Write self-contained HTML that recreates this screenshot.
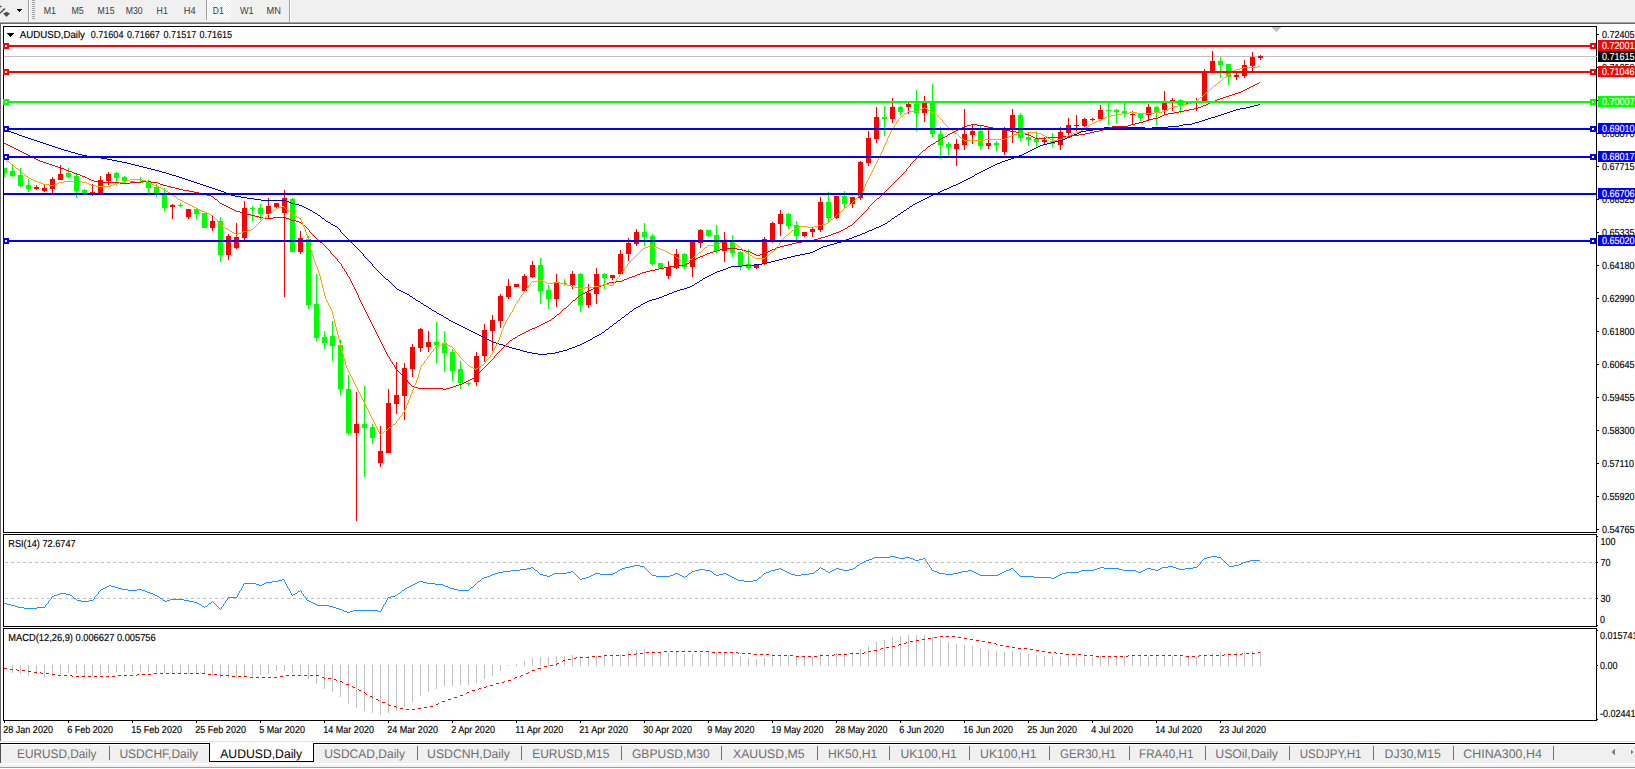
<!DOCTYPE html>
<html><head><meta charset="utf-8"><title>AUDUSD,Daily</title>
<style>
html,body{margin:0;padding:0;background:#fff;overflow:hidden}
svg{display:block}
svg text{font-family:"Liberation Sans",sans-serif;text-rendering:geometricPrecision}
rect,polyline,line,path{shape-rendering:crispEdges}
</style></head>
<body>
<svg width="1635" height="769" viewBox="0 0 1635 769">
<rect x="0" y="0" width="1635" height="769" fill="#ffffff"/>
<rect x="0" y="0" width="1635" height="22" fill="#f0f0f0"/>
<rect x="0" y="21" width="1635" height="1" fill="#f5f5f5"/>
<rect x="0" y="22" width="1635" height="1" fill="#a0a0a0"/>
<rect x="0" y="23" width="1635" height="1" fill="#696969"/>
<rect x="0" y="23" width="1" height="719" fill="#696969"/>
<g id="toolbar">
<path d="M0 5.2 L2.2 6.8 L0 7.4 Z" fill="#505050" style="shape-rendering:auto"/>
<path d="M5 8.6 L0 13.3" stroke="#505050" stroke-width="1.4" fill="none" style="shape-rendering:auto"/>
<path d="M6.6 11.7 L10 13.6 L6.4 17.1 L3.1 13.6 Z" fill="#505050" style="shape-rendering:auto"/>
<rect x="17" y="9" width="5" height="1" fill="#000"/>
<rect x="18" y="10" width="3" height="1" fill="#000"/>
<rect x="19" y="11" width="1" height="1" fill="#000"/>
<rect x="28" y="0" width="1" height="22" fill="#a0a0a0"/>
<rect x="29" y="0" width="1" height="22" fill="#ffffff"/>
<rect x="32" y="0" width="3" height="1" fill="#a0a0a0"/>
<rect x="32" y="2" width="3" height="1" fill="#a0a0a0"/>
<rect x="32" y="4" width="3" height="1" fill="#a0a0a0"/>
<rect x="32" y="6" width="3" height="1" fill="#a0a0a0"/>
<rect x="32" y="8" width="3" height="1" fill="#a0a0a0"/>
<rect x="32" y="10" width="3" height="1" fill="#a0a0a0"/>
<rect x="32" y="12" width="3" height="1" fill="#a0a0a0"/>
<rect x="32" y="14" width="3" height="1" fill="#a0a0a0"/>
<rect x="32" y="16" width="3" height="1" fill="#a0a0a0"/>
<rect x="32" y="18" width="3" height="1" fill="#a0a0a0"/>
<defs><pattern id="hatch" width="2" height="2" patternUnits="userSpaceOnUse"><rect width="2" height="2" fill="#f0f0f0"/><rect width="1" height="1" fill="#fff"/><rect x="1" y="1" width="1" height="1" fill="#fff"/></pattern></defs>
<rect x="207" y="0" width="24" height="20" fill="url(#hatch)"/>
<rect x="206" y="0" width="1" height="20" fill="#a0a0a0"/>
<rect x="289" y="0" width="1" height="22" fill="#a0a0a0"/>
<rect x="290" y="0" width="1" height="22" fill="#ffffff"/>
<text x="43.7" y="14" font-size="10.2" fill="#3c3c3c" textLength="12.2" lengthAdjust="spacingAndGlyphs">M1</text>
<text x="71.5" y="14" font-size="10.2" fill="#3c3c3c" textLength="12.3" lengthAdjust="spacingAndGlyphs">M5</text>
<text x="97.6" y="14" font-size="10.2" fill="#3c3c3c" textLength="16.9" lengthAdjust="spacingAndGlyphs">M15</text>
<text x="125.7" y="14" font-size="10.2" fill="#3c3c3c" textLength="16.9" lengthAdjust="spacingAndGlyphs">M30</text>
<text x="156.6" y="14" font-size="10.2" fill="#3c3c3c" textLength="11.2" lengthAdjust="spacingAndGlyphs">H1</text>
<text x="183.7" y="14" font-size="10.2" fill="#3c3c3c" textLength="11.9" lengthAdjust="spacingAndGlyphs">H4</text>
<text x="212.8" y="14" font-size="10.2" fill="#3c3c3c" textLength="10.9" lengthAdjust="spacingAndGlyphs">D1</text>
<text x="239.9" y="14" font-size="10.2" fill="#3c3c3c" textLength="13.7" lengthAdjust="spacingAndGlyphs">W1</text>
<text x="266.6" y="14" font-size="10.2" fill="#3c3c3c" textLength="14.4" lengthAdjust="spacingAndGlyphs">MN</text>
</g>
<rect x="3" y="26" width="1594" height="1" fill="#000000"/>
<rect x="3" y="26" width="1" height="695" fill="#000000"/>
<rect x="1596" y="26" width="1" height="695" fill="#000000"/>
<rect x="3" y="532" width="1594" height="1" fill="#000000"/>
<rect x="3" y="534" width="1594" height="1" fill="#000000"/>
<rect x="3" y="626" width="1594" height="1" fill="#000000"/>
<rect x="3" y="628" width="1594" height="1" fill="#000000"/>
<rect x="3" y="720" width="1594" height="1" fill="#000000"/>
<rect x="3" y="533" width="1594" height="1" fill="#fff"/>
<rect x="3" y="627" width="1594" height="1" fill="#fff"/>
<rect x="1272" y="27" width="9" height="1" fill="#c0c0c0"/>
<rect x="1273" y="28" width="7" height="1" fill="#c0c0c0"/>
<rect x="1274" y="29" width="5" height="1" fill="#c0c0c0"/>
<rect x="1275" y="30" width="3" height="1" fill="#c0c0c0"/>
<rect x="1276" y="31" width="1" height="1" fill="#c0c0c0"/>
<defs><clipPath id="cm"><rect x="4" y="27" width="1592" height="505"/></clipPath></defs>
<g clip-path="url(#cm)">
<rect x="4" y="56" width="1592" height="1" fill="#c0c0c0"/>
<rect x="4" y="168" width="1" height="9" fill="#00ff00"/>
<rect x="2" y="168" width="5" height="5" fill="#00ff00"/>
<rect x="12" y="165" width="1" height="12" fill="#00ff00"/>
<rect x="10" y="171" width="5" height="5" fill="#00ff00"/>
<rect x="20" y="168" width="1" height="19" fill="#00ff00"/>
<rect x="18" y="175" width="5" height="11" fill="#00ff00"/>
<rect x="28" y="179" width="1" height="13" fill="#00ff00"/>
<rect x="26" y="185" width="5" height="4" fill="#00ff00"/>
<rect x="36" y="185" width="1" height="5" fill="#ff0000"/>
<rect x="34" y="187" width="5" height="2" fill="#ff0000"/>
<rect x="44" y="184" width="1" height="8" fill="#ff0000"/>
<rect x="42" y="188" width="5" height="3" fill="#ff0000"/>
<rect x="52" y="177" width="1" height="16" fill="#ff0000"/>
<rect x="50" y="179" width="5" height="10" fill="#ff0000"/>
<rect x="60" y="165" width="1" height="15" fill="#ff0000"/>
<rect x="58" y="174" width="5" height="6" fill="#ff0000"/>
<rect x="68" y="168" width="1" height="10" fill="#00ff00"/>
<rect x="66" y="173" width="5" height="4" fill="#00ff00"/>
<rect x="76" y="174" width="1" height="24" fill="#00ff00"/>
<rect x="74" y="176" width="5" height="15" fill="#00ff00"/>
<rect x="84" y="189" width="1" height="5" fill="#00ff00"/>
<rect x="82" y="190" width="5" height="4" fill="#00ff00"/>
<rect x="92" y="184" width="1" height="12" fill="#ff0000"/>
<rect x="90" y="192" width="5" height="2" fill="#ff0000"/>
<rect x="100" y="176" width="1" height="18" fill="#ff0000"/>
<rect x="98" y="180" width="5" height="14" fill="#ff0000"/>
<rect x="108" y="172" width="1" height="13" fill="#ff0000"/>
<rect x="106" y="174" width="5" height="7" fill="#ff0000"/>
<rect x="116" y="172" width="1" height="13" fill="#00ff00"/>
<rect x="114" y="173" width="5" height="5" fill="#00ff00"/>
<rect x="124" y="176" width="1" height="7" fill="#00ff00"/>
<rect x="122" y="177" width="5" height="4" fill="#00ff00"/>
<rect x="132" y="181" width="1" height="2" fill="#00ff00"/>
<rect x="130" y="181" width="5" height="2" fill="#00ff00"/>
<rect x="140" y="177" width="1" height="6" fill="#00ff00"/>
<rect x="138" y="182" width="5" height="1" fill="#00ff00"/>
<rect x="148" y="180" width="1" height="13" fill="#00ff00"/>
<rect x="146" y="182" width="5" height="6" fill="#00ff00"/>
<rect x="156" y="184" width="1" height="13" fill="#00ff00"/>
<rect x="154" y="187" width="5" height="6" fill="#00ff00"/>
<rect x="164" y="188" width="1" height="23" fill="#00ff00"/>
<rect x="162" y="194" width="5" height="14" fill="#00ff00"/>
<rect x="172" y="204" width="1" height="15" fill="#ff0000"/>
<rect x="170" y="205" width="5" height="2" fill="#ff0000"/>
<rect x="180" y="203" width="1" height="4" fill="#00ff00"/>
<rect x="178" y="205" width="5" height="1" fill="#00ff00"/>
<rect x="188" y="209" width="1" height="10" fill="#ff0000"/>
<rect x="186" y="209" width="5" height="8" fill="#ff0000"/>
<rect x="196" y="208" width="1" height="11" fill="#00ff00"/>
<rect x="194" y="209" width="5" height="5" fill="#00ff00"/>
<rect x="204" y="213" width="1" height="15" fill="#00ff00"/>
<rect x="202" y="213" width="5" height="15" fill="#00ff00"/>
<rect x="212" y="216" width="1" height="15" fill="#ff0000"/>
<rect x="210" y="221" width="5" height="7" fill="#ff0000"/>
<rect x="220" y="217" width="1" height="45" fill="#00ff00"/>
<rect x="218" y="221" width="5" height="34" fill="#00ff00"/>
<rect x="228" y="234" width="1" height="26" fill="#ff0000"/>
<rect x="226" y="236" width="5" height="19" fill="#ff0000"/>
<rect x="236" y="223" width="1" height="26" fill="#ff0000"/>
<rect x="234" y="237" width="5" height="11" fill="#ff0000"/>
<rect x="244" y="201" width="1" height="39" fill="#ff0000"/>
<rect x="242" y="208" width="5" height="30" fill="#ff0000"/>
<rect x="252" y="206" width="1" height="15" fill="#00ff00"/>
<rect x="250" y="208" width="5" height="1" fill="#00ff00"/>
<rect x="260" y="204" width="1" height="16" fill="#00ff00"/>
<rect x="258" y="208" width="5" height="6" fill="#00ff00"/>
<rect x="268" y="198" width="1" height="21" fill="#ff0000"/>
<rect x="266" y="206" width="5" height="8" fill="#ff0000"/>
<rect x="276" y="203" width="1" height="5" fill="#ff0000"/>
<rect x="274" y="203" width="5" height="4" fill="#ff0000"/>
<rect x="284" y="190" width="1" height="107" fill="#ff0000"/>
<rect x="282" y="198" width="5" height="15" fill="#ff0000"/>
<rect x="292" y="198" width="1" height="54" fill="#00ff00"/>
<rect x="290" y="199" width="5" height="53" fill="#00ff00"/>
<rect x="300" y="231" width="1" height="23" fill="#ff0000"/>
<rect x="298" y="238" width="5" height="14" fill="#ff0000"/>
<rect x="308" y="236" width="1" height="73" fill="#00ff00"/>
<rect x="306" y="239" width="5" height="66" fill="#00ff00"/>
<rect x="316" y="274" width="1" height="67" fill="#00ff00"/>
<rect x="314" y="304" width="5" height="34" fill="#00ff00"/>
<rect x="324" y="331" width="1" height="18" fill="#00ff00"/>
<rect x="322" y="337" width="5" height="6" fill="#00ff00"/>
<rect x="332" y="321" width="1" height="40" fill="#00ff00"/>
<rect x="330" y="336" width="5" height="10" fill="#00ff00"/>
<rect x="340" y="340" width="1" height="55" fill="#00ff00"/>
<rect x="338" y="345" width="5" height="44" fill="#00ff00"/>
<rect x="348" y="375" width="1" height="60" fill="#00ff00"/>
<rect x="346" y="389" width="5" height="44" fill="#00ff00"/>
<rect x="356" y="392" width="1" height="129" fill="#ff0000"/>
<rect x="354" y="424" width="5" height="9" fill="#ff0000"/>
<rect x="364" y="386" width="1" height="91" fill="#00ff00"/>
<rect x="362" y="424" width="5" height="4" fill="#00ff00"/>
<rect x="372" y="424" width="1" height="20" fill="#00ff00"/>
<rect x="370" y="427" width="5" height="11" fill="#00ff00"/>
<rect x="380" y="426" width="1" height="41" fill="#ff0000"/>
<rect x="378" y="451" width="5" height="12" fill="#ff0000"/>
<rect x="388" y="389" width="1" height="64" fill="#ff0000"/>
<rect x="386" y="403" width="5" height="50" fill="#ff0000"/>
<rect x="396" y="362" width="1" height="52" fill="#ff0000"/>
<rect x="394" y="395" width="5" height="9" fill="#ff0000"/>
<rect x="404" y="363" width="1" height="57" fill="#ff0000"/>
<rect x="402" y="368" width="5" height="28" fill="#ff0000"/>
<rect x="412" y="344" width="1" height="33" fill="#ff0000"/>
<rect x="410" y="347" width="5" height="22" fill="#ff0000"/>
<rect x="420" y="328" width="1" height="24" fill="#ff0000"/>
<rect x="418" y="329" width="5" height="19" fill="#ff0000"/>
<rect x="428" y="331" width="1" height="21" fill="#ff0000"/>
<rect x="426" y="342" width="5" height="5" fill="#ff0000"/>
<rect x="436" y="322" width="1" height="41" fill="#00ff00"/>
<rect x="434" y="342" width="5" height="3" fill="#00ff00"/>
<rect x="444" y="331" width="1" height="41" fill="#00ff00"/>
<rect x="442" y="343" width="5" height="10" fill="#00ff00"/>
<rect x="452" y="349" width="1" height="32" fill="#00ff00"/>
<rect x="450" y="352" width="5" height="19" fill="#00ff00"/>
<rect x="460" y="361" width="1" height="28" fill="#00ff00"/>
<rect x="458" y="369" width="5" height="14" fill="#00ff00"/>
<rect x="468" y="382" width="1" height="4" fill="#00ff00"/>
<rect x="466" y="383" width="5" height="1" fill="#00ff00"/>
<rect x="476" y="352" width="1" height="34" fill="#ff0000"/>
<rect x="474" y="356" width="5" height="26" fill="#ff0000"/>
<rect x="484" y="324" width="1" height="38" fill="#ff0000"/>
<rect x="482" y="330" width="5" height="26" fill="#ff0000"/>
<rect x="492" y="315" width="1" height="36" fill="#ff0000"/>
<rect x="490" y="320" width="5" height="11" fill="#ff0000"/>
<rect x="500" y="294" width="1" height="34" fill="#ff0000"/>
<rect x="498" y="296" width="5" height="25" fill="#ff0000"/>
<rect x="508" y="279" width="1" height="20" fill="#ff0000"/>
<rect x="506" y="286" width="5" height="11" fill="#ff0000"/>
<rect x="516" y="284" width="1" height="3" fill="#ff0000"/>
<rect x="514" y="284" width="5" height="3" fill="#ff0000"/>
<rect x="524" y="274" width="1" height="17" fill="#ff0000"/>
<rect x="522" y="276" width="5" height="15" fill="#ff0000"/>
<rect x="532" y="261" width="1" height="17" fill="#ff0000"/>
<rect x="530" y="265" width="5" height="12" fill="#ff0000"/>
<rect x="540" y="258" width="1" height="46" fill="#00ff00"/>
<rect x="538" y="265" width="5" height="26" fill="#00ff00"/>
<rect x="548" y="285" width="1" height="24" fill="#00ff00"/>
<rect x="546" y="290" width="5" height="9" fill="#00ff00"/>
<rect x="556" y="274" width="1" height="33" fill="#ff0000"/>
<rect x="554" y="282" width="5" height="17" fill="#ff0000"/>
<rect x="564" y="279" width="1" height="7" fill="#00ff00"/>
<rect x="562" y="283" width="5" height="1" fill="#00ff00"/>
<rect x="572" y="271" width="1" height="18" fill="#ff0000"/>
<rect x="570" y="274" width="5" height="11" fill="#ff0000"/>
<rect x="580" y="273" width="1" height="39" fill="#00ff00"/>
<rect x="578" y="274" width="5" height="31" fill="#00ff00"/>
<rect x="588" y="284" width="1" height="24" fill="#ff0000"/>
<rect x="586" y="293" width="5" height="12" fill="#ff0000"/>
<rect x="596" y="268" width="1" height="36" fill="#ff0000"/>
<rect x="594" y="274" width="5" height="20" fill="#ff0000"/>
<rect x="604" y="273" width="1" height="16" fill="#00ff00"/>
<rect x="602" y="274" width="5" height="4" fill="#00ff00"/>
<rect x="612" y="275" width="1" height="5" fill="#ff0000"/>
<rect x="610" y="275" width="5" height="3" fill="#ff0000"/>
<rect x="620" y="250" width="1" height="24" fill="#ff0000"/>
<rect x="618" y="254" width="5" height="20" fill="#ff0000"/>
<rect x="628" y="238" width="1" height="23" fill="#ff0000"/>
<rect x="626" y="243" width="5" height="11" fill="#ff0000"/>
<rect x="636" y="229" width="1" height="17" fill="#ff0000"/>
<rect x="634" y="232" width="5" height="12" fill="#ff0000"/>
<rect x="644" y="223" width="1" height="23" fill="#00ff00"/>
<rect x="642" y="232" width="5" height="5" fill="#00ff00"/>
<rect x="652" y="234" width="1" height="32" fill="#00ff00"/>
<rect x="650" y="236" width="5" height="28" fill="#00ff00"/>
<rect x="660" y="263" width="1" height="5" fill="#00ff00"/>
<rect x="658" y="263" width="5" height="5" fill="#00ff00"/>
<rect x="668" y="261" width="1" height="18" fill="#ff0000"/>
<rect x="666" y="267" width="5" height="9" fill="#ff0000"/>
<rect x="676" y="249" width="1" height="20" fill="#ff0000"/>
<rect x="674" y="254" width="5" height="14" fill="#ff0000"/>
<rect x="684" y="253" width="1" height="16" fill="#00ff00"/>
<rect x="682" y="254" width="5" height="13" fill="#00ff00"/>
<rect x="692" y="240" width="1" height="37" fill="#ff0000"/>
<rect x="690" y="241" width="5" height="26" fill="#ff0000"/>
<rect x="700" y="229" width="1" height="19" fill="#ff0000"/>
<rect x="698" y="230" width="5" height="13" fill="#ff0000"/>
<rect x="708" y="230" width="1" height="7" fill="#00ff00"/>
<rect x="706" y="230" width="5" height="6" fill="#00ff00"/>
<rect x="716" y="225" width="1" height="28" fill="#00ff00"/>
<rect x="714" y="235" width="5" height="16" fill="#00ff00"/>
<rect x="724" y="232" width="1" height="30" fill="#ff0000"/>
<rect x="722" y="241" width="5" height="10" fill="#ff0000"/>
<rect x="732" y="235" width="1" height="22" fill="#00ff00"/>
<rect x="730" y="242" width="5" height="11" fill="#00ff00"/>
<rect x="740" y="251" width="1" height="19" fill="#00ff00"/>
<rect x="738" y="252" width="5" height="14" fill="#00ff00"/>
<rect x="748" y="249" width="1" height="21" fill="#00ff00"/>
<rect x="746" y="264" width="5" height="4" fill="#00ff00"/>
<rect x="756" y="265" width="1" height="4" fill="#ff0000"/>
<rect x="754" y="265" width="5" height="3" fill="#ff0000"/>
<rect x="764" y="237" width="1" height="28" fill="#ff0000"/>
<rect x="762" y="239" width="5" height="25" fill="#ff0000"/>
<rect x="772" y="222" width="1" height="21" fill="#ff0000"/>
<rect x="770" y="223" width="5" height="19" fill="#ff0000"/>
<rect x="780" y="210" width="1" height="26" fill="#ff0000"/>
<rect x="778" y="214" width="5" height="10" fill="#ff0000"/>
<rect x="788" y="213" width="1" height="16" fill="#00ff00"/>
<rect x="786" y="214" width="5" height="12" fill="#00ff00"/>
<rect x="796" y="221" width="1" height="19" fill="#00ff00"/>
<rect x="794" y="225" width="5" height="11" fill="#00ff00"/>
<rect x="804" y="232" width="1" height="5" fill="#ff0000"/>
<rect x="802" y="232" width="5" height="4" fill="#ff0000"/>
<rect x="812" y="228" width="1" height="9" fill="#ff0000"/>
<rect x="810" y="229" width="5" height="3" fill="#ff0000"/>
<rect x="820" y="197" width="1" height="35" fill="#ff0000"/>
<rect x="818" y="202" width="5" height="28" fill="#ff0000"/>
<rect x="828" y="192" width="1" height="31" fill="#00ff00"/>
<rect x="826" y="202" width="5" height="16" fill="#00ff00"/>
<rect x="836" y="196" width="1" height="23" fill="#ff0000"/>
<rect x="834" y="196" width="5" height="22" fill="#ff0000"/>
<rect x="844" y="191" width="1" height="18" fill="#00ff00"/>
<rect x="842" y="196" width="5" height="8" fill="#00ff00"/>
<rect x="852" y="197" width="1" height="11" fill="#ff0000"/>
<rect x="850" y="197" width="5" height="7" fill="#ff0000"/>
<rect x="860" y="161" width="1" height="39" fill="#ff0000"/>
<rect x="858" y="162" width="5" height="36" fill="#ff0000"/>
<rect x="868" y="131" width="1" height="35" fill="#ff0000"/>
<rect x="866" y="138" width="5" height="25" fill="#ff0000"/>
<rect x="876" y="107" width="1" height="36" fill="#ff0000"/>
<rect x="874" y="117" width="5" height="22" fill="#ff0000"/>
<rect x="884" y="106" width="1" height="30" fill="#00ff00"/>
<rect x="882" y="117" width="5" height="2" fill="#00ff00"/>
<rect x="892" y="98" width="1" height="25" fill="#ff0000"/>
<rect x="890" y="107" width="5" height="12" fill="#ff0000"/>
<rect x="900" y="106" width="1" height="9" fill="#00ff00"/>
<rect x="898" y="107" width="5" height="5" fill="#00ff00"/>
<rect x="908" y="103" width="1" height="11" fill="#ff0000"/>
<rect x="906" y="104" width="5" height="3" fill="#ff0000"/>
<rect x="916" y="90" width="1" height="41" fill="#00ff00"/>
<rect x="914" y="104" width="5" height="9" fill="#00ff00"/>
<rect x="924" y="96" width="1" height="26" fill="#ff0000"/>
<rect x="922" y="103" width="5" height="10" fill="#ff0000"/>
<rect x="932" y="84" width="1" height="53" fill="#00ff00"/>
<rect x="930" y="103" width="5" height="31" fill="#00ff00"/>
<rect x="940" y="127" width="1" height="32" fill="#00ff00"/>
<rect x="938" y="134" width="5" height="11" fill="#00ff00"/>
<rect x="948" y="142" width="1" height="15" fill="#00ff00"/>
<rect x="946" y="144" width="5" height="3" fill="#00ff00"/>
<rect x="956" y="139" width="1" height="27" fill="#ff0000"/>
<rect x="954" y="144" width="5" height="5" fill="#ff0000"/>
<rect x="964" y="109" width="1" height="41" fill="#ff0000"/>
<rect x="962" y="134" width="5" height="11" fill="#ff0000"/>
<rect x="972" y="125" width="1" height="19" fill="#ff0000"/>
<rect x="970" y="131" width="5" height="4" fill="#ff0000"/>
<rect x="980" y="126" width="1" height="23" fill="#00ff00"/>
<rect x="978" y="131" width="5" height="15" fill="#00ff00"/>
<rect x="988" y="127" width="1" height="22" fill="#ff0000"/>
<rect x="986" y="143" width="5" height="3" fill="#ff0000"/>
<rect x="996" y="141" width="1" height="10" fill="#00ff00"/>
<rect x="994" y="143" width="5" height="2" fill="#00ff00"/>
<rect x="1004" y="127" width="1" height="28" fill="#ff0000"/>
<rect x="1002" y="130" width="5" height="22" fill="#ff0000"/>
<rect x="1012" y="109" width="1" height="34" fill="#ff0000"/>
<rect x="1010" y="115" width="5" height="15" fill="#ff0000"/>
<rect x="1020" y="113" width="1" height="28" fill="#00ff00"/>
<rect x="1018" y="115" width="5" height="23" fill="#00ff00"/>
<rect x="1028" y="132" width="1" height="14" fill="#00ff00"/>
<rect x="1026" y="137" width="5" height="3" fill="#00ff00"/>
<rect x="1036" y="131" width="1" height="17" fill="#00ff00"/>
<rect x="1034" y="139" width="5" height="3" fill="#00ff00"/>
<rect x="1044" y="137" width="1" height="8" fill="#ff0000"/>
<rect x="1042" y="140" width="5" height="2" fill="#ff0000"/>
<rect x="1052" y="133" width="1" height="14" fill="#00ff00"/>
<rect x="1050" y="141" width="5" height="3" fill="#00ff00"/>
<rect x="1060" y="127" width="1" height="23" fill="#ff0000"/>
<rect x="1058" y="132" width="5" height="13" fill="#ff0000"/>
<rect x="1068" y="118" width="1" height="18" fill="#ff0000"/>
<rect x="1066" y="125" width="5" height="8" fill="#ff0000"/>
<rect x="1076" y="115" width="1" height="16" fill="#ff0000"/>
<rect x="1074" y="125" width="5" height="1" fill="#ff0000"/>
<rect x="1084" y="118" width="1" height="9" fill="#ff0000"/>
<rect x="1082" y="119" width="5" height="7" fill="#ff0000"/>
<rect x="1092" y="118" width="1" height="3" fill="#ff0000"/>
<rect x="1090" y="119" width="5" height="1" fill="#ff0000"/>
<rect x="1100" y="105" width="1" height="14" fill="#ff0000"/>
<rect x="1098" y="110" width="5" height="9" fill="#ff0000"/>
<rect x="1108" y="103" width="1" height="22" fill="#00ff00"/>
<rect x="1106" y="110" width="5" height="1" fill="#00ff00"/>
<rect x="1116" y="109" width="1" height="14" fill="#00ff00"/>
<rect x="1114" y="110" width="5" height="2" fill="#00ff00"/>
<rect x="1124" y="103" width="1" height="14" fill="#00ff00"/>
<rect x="1122" y="111" width="5" height="3" fill="#00ff00"/>
<rect x="1132" y="111" width="1" height="13" fill="#ff0000"/>
<rect x="1130" y="114" width="5" height="1" fill="#ff0000"/>
<rect x="1140" y="113" width="1" height="8" fill="#00ff00"/>
<rect x="1138" y="114" width="5" height="4" fill="#00ff00"/>
<rect x="1148" y="104" width="1" height="17" fill="#ff0000"/>
<rect x="1146" y="107" width="5" height="8" fill="#ff0000"/>
<rect x="1156" y="106" width="1" height="19" fill="#00ff00"/>
<rect x="1154" y="107" width="5" height="5" fill="#00ff00"/>
<rect x="1164" y="91" width="1" height="23" fill="#ff0000"/>
<rect x="1162" y="103" width="5" height="7" fill="#ff0000"/>
<rect x="1172" y="98" width="1" height="13" fill="#ff0000"/>
<rect x="1170" y="100" width="5" height="1" fill="#ff0000"/>
<rect x="1180" y="99" width="1" height="14" fill="#00ff00"/>
<rect x="1178" y="100" width="5" height="5" fill="#00ff00"/>
<rect x="1188" y="103" width="1" height="1" fill="#ff0000"/>
<rect x="1186" y="103" width="5" height="1" fill="#ff0000"/>
<rect x="1196" y="98" width="1" height="13" fill="#ff0000"/>
<rect x="1194" y="101" width="5" height="1" fill="#ff0000"/>
<rect x="1204" y="69" width="1" height="32" fill="#ff0000"/>
<rect x="1202" y="72" width="5" height="29" fill="#ff0000"/>
<rect x="1212" y="51" width="1" height="21" fill="#ff0000"/>
<rect x="1210" y="61" width="5" height="10" fill="#ff0000"/>
<rect x="1220" y="57" width="1" height="21" fill="#00ff00"/>
<rect x="1218" y="61" width="5" height="4" fill="#00ff00"/>
<rect x="1228" y="64" width="1" height="21" fill="#00ff00"/>
<rect x="1226" y="64" width="5" height="13" fill="#00ff00"/>
<rect x="1236" y="73" width="1" height="7" fill="#ff0000"/>
<rect x="1234" y="75" width="5" height="2" fill="#ff0000"/>
<rect x="1244" y="60" width="1" height="18" fill="#ff0000"/>
<rect x="1242" y="65" width="5" height="11" fill="#ff0000"/>
<rect x="1252" y="52" width="1" height="19" fill="#ff0000"/>
<rect x="1250" y="57" width="5" height="9" fill="#ff0000"/>
<rect x="1260" y="55" width="1" height="5" fill="#ff0000"/>
<rect x="1258" y="56" width="5" height="2" fill="#ff0000"/>
<path fill="#0000c8" d="M372 264h1v2h-1zM340 230h1v2h-1zM363 254h1v2h-1zM473 332h2v1h-2zM602 332h2v1h-2zM532 353h6v1h-6zM547 353h8v1h-8zM94 157h7v1h-7zM1014 157h2v1h-2zM1215 116h3v1h-3zM362 253h1v1h-1zM805 253h5v1h-5zM261 200h25v1h-25zM921 200h2v1h-2zM31 139h3v1h-3zM1063 139h2v1h-2zM1168 126h11v1h-11zM14 133h3v1h-3zM1077 133h2v1h-2zM147 168h4v1h-4zM987 168h2v1h-2zM520 350h3v1h-3zM563 350h4v1h-4zM78 154h4v1h-4zM1022 154h2v1h-2zM203 185h3v1h-3zM953 185h3v1h-3zM370 262h1v1h-1zM767 262h4v1h-4zM6 130h3v1h-3zM1086 130h7v1h-7zM179 177h3v1h-3zM970 177h2v1h-2zM320 216h1v1h-1zM895 216h2v1h-2zM339 229h1v1h-1zM872 229h2v1h-2zM1104 127h41v1h-41zM1152 127h16v1h-16zM321 217h1v1h-1zM894 217h1v1h-1zM40 142h3v1h-3zM1051 142h4v1h-4zM376 269h1v1h-1zM723 269h3v1h-3zM1199 121h3v1h-3zM394 286h1v1h-1zM690 286h2v1h-2zM82 155h5v1h-5zM1019 155h3v1h-3zM112 160h5v1h-5zM1005 160h3v1h-3zM347 238h1v1h-1zM849 238h3v1h-3zM333 225h2v1h-2zM881 225h2v1h-2zM235 196h6v1h-6zM929 196h2v1h-2zM483 337h2v1h-2zM593 337h2v1h-2zM475 333h2v1h-2zM601 333h1v1h-1zM337 227h1v1h-1zM876 227h3v1h-3zM1183 124h9v1h-9zM467 329h2v1h-2zM606 329h2v1h-2zM367 259h1v1h-1zM779 259h4v1h-4zM395 287h1v1h-1zM687 287h3v1h-3zM503 345h3v1h-3zM577 345h3v1h-3zM1100 128h4v1h-4zM1145 128h7v1h-7zM254 199h7v1h-7zM923 199h2v1h-2zM107 159h5v1h-5zM1008 159h3v1h-3zM384 277h1v1h-1zM705 277h2v1h-2zM479 335h2v1h-2zM597 335h2v1h-2zM212 188h3v1h-3zM947 188h2v1h-2zM1246 107h4v1h-4zM218 190h3v1h-3zM942 190h2v1h-2zM352 243h1v1h-1zM834 243h3v1h-3zM315 213h2v1h-2zM900 213h1v1h-1zM335 226h2v1h-2zM879 226h2v1h-2zM308 209h2v1h-2zM906 209h1v1h-1zM368 260h1v1h-1zM775 260h4v1h-4zM299 205h3v1h-3zM912 205h1v1h-1zM61 149h3v1h-3zM1032 149h2v1h-2zM1233 110h3v1h-3zM355 246h1v1h-1zM823 246h4v1h-4zM538 354h9v1h-9zM101 158h6v1h-6zM1011 158h3v1h-3zM1218 115h3v1h-3zM4 129h2v1h-2zM1093 129h7v1h-7zM399 290h2v1h-2zM677 290h3v1h-3zM375 268h1v1h-1zM726 268h2v1h-2zM330 223h1v1h-1zM885 223h2v1h-2zM71 152h4v1h-4zM1026 152h2v1h-2zM341 232h1v1h-1zM865 232h2v1h-2zM197 183h3v1h-3zM958 183h2v1h-2zM326 221h2v1h-2zM888 221h2v1h-2zM410 296h2v1h-2zM662 296h2v1h-2zM1236 109h4v1h-4zM516 349h4v1h-4zM567 349h2v1h-2zM378 271h1v1h-1zM717 271h3v1h-3zM166 173h3v1h-3zM977 173h2v1h-2zM742 265h12v1h-12zM471 331h2v1h-2zM604 331h1v1h-1zM87 156h7v1h-7zM1016 156h3v1h-3zM143 167h4v1h-4zM989 167h2v1h-2zM200 184h3v1h-3zM956 184h2v1h-2zM1208 118h3v1h-3zM127 163h4v1h-4zM997 163h3v1h-3zM75 153h3v1h-3zM1024 153h2v1h-2zM369 261h1v1h-1zM771 261h4v1h-4zM426 306h2v1h-2zM638 306h2v1h-2zM405 293h2v1h-2zM669 293h3v1h-3zM343 234h1v1h-1zM860 234h2v1h-2zM391 283h1v1h-1zM695 283h2v1h-2zM429 308h2v1h-2zM634 308h2v1h-2zM409 295h1v1h-1zM664 295h3v1h-3zM295 204h4v1h-4zM913 204h2v1h-2zM364 256h1v1h-1zM791 256h4v1h-4zM169 174h3v1h-3zM975 174h2v1h-2zM286 201h3v1h-3zM919 201h2v1h-2zM489 340h2v1h-2zM588 340h2v1h-2zM481 336h2v1h-2zM595 336h2v1h-2zM465 328h2v1h-2zM608 328h1v1h-1zM459 325h2v1h-2zM612 325h1v1h-1zM313 212h2v1h-2zM901 212h2v1h-2zM68 151h3v1h-3zM1028 151h2v1h-2zM306 208h2v1h-2zM907 208h2v1h-2zM37 141h3v1h-3zM1055 141h4v1h-4zM1254 105h4v1h-4zM49 145h3v1h-3zM1040 145h3v1h-3zM506 346h3v1h-3zM575 346h2v1h-2zM55 147h3v1h-3zM1036 147h2v1h-2zM446 318h2v1h-2zM621 318h1v1h-1zM867 231h2v1h-2zM1240 108h6v1h-6zM420 302h1v1h-1zM645 302h2v1h-2zM139 166h4v1h-4zM991 166h2v1h-2zM512 348h4v1h-4zM569 348h3v1h-3zM350 241h1v1h-1zM841 241h3v1h-3zM328 222h2v1h-2zM887 222h1v1h-1zM1230 111h3v1h-3zM172 175h4v1h-4zM974 175h1v1h-1zM162 172h4v1h-4zM979 172h2v1h-2zM396 288h1v1h-1zM684 288h3v1h-3zM229 194h2v1h-2zM933 194h2v1h-2zM869 230h3v1h-3zM373 266h1v1h-1zM731 266h11v1h-11zM206 186h3v1h-3zM951 186h2v1h-2zM401 291h2v1h-2zM674 291h3v1h-3zM9 131h2v1h-2zM1081 131h5v1h-5zM374 267h1v1h-1zM728 267h3v1h-3zM322 218h2v1h-2zM892 218h2v1h-2zM231 195h4v1h-4zM931 195h2v1h-2zM291 203h4v1h-4zM915 203h2v1h-2zM439 314h2v1h-2zM626 314h2v1h-2zM485 338h2v1h-2zM592 338h1v1h-1zM1221 114h3v1h-3zM380 273h1v1h-1zM713 273h2v1h-2zM25 137h3v1h-3zM1067 137h3v1h-3zM800 254h5v1h-5zM344 235h1v1h-1zM857 235h3v1h-3zM371 263h1v1h-1zM762 263h5v1h-5zM117 161h5v1h-5zM1002 161h3v1h-3zM493 342h3v1h-3zM584 342h2v1h-2zM365 257h1v1h-1zM787 257h4v1h-4zM754 264h8v1h-8zM379 272h1v1h-1zM715 272h2v1h-2zM151 169h4v1h-4zM985 169h2v1h-2zM34 140h3v1h-3zM1059 140h4v1h-4zM348 239h1v1h-1zM846 239h3v1h-3zM159 171h3v1h-3zM981 171h2v1h-2zM415 299h1v1h-1zM652 299h4v1h-4zM224 192h2v1h-2zM938 192h2v1h-2zM209 187h3v1h-3zM949 187h2v1h-2zM135 165h4v1h-4zM993 165h2v1h-2zM182 178h3v1h-3zM968 178h2v1h-2zM359 250h1v1h-1zM815 250h2v1h-2zM366 258h1v1h-1zM783 258h4v1h-4zM509 347h3v1h-3zM572 347h3v1h-3zM461 326h2v1h-2zM610 326h2v1h-2zM122 162h5v1h-5zM1000 162h2v1h-2zM43 143h3v1h-3zM1047 143h4v1h-4zM413 298h2v1h-2zM656 298h3v1h-3zM383 276h1v1h-1zM707 276h2v1h-2zM351 242h1v1h-1zM837 242h4v1h-4zM194 182h3v1h-3zM960 182h2v1h-2zM449 320h2v1h-2zM618 320h2v1h-2zM385 278h1v1h-1zM703 278h2v1h-2zM353 244h1v1h-1zM830 244h4v1h-4zM221 191h3v1h-3zM940 191h2v1h-2zM226 193h3v1h-3zM935 193h3v1h-3zM356 247h1v1h-1zM821 247h2v1h-2zM1258 104h2v1h-2zM477 334h2v1h-2zM599 334h2v1h-2zM469 330h2v1h-2zM605 330h1v1h-1zM421 303h2v1h-2zM643 303h2v1h-2zM346 237h1v1h-1zM852 237h2v1h-2zM131 164h4v1h-4zM995 164h2v1h-2zM527 352h5v1h-5zM555 352h4v1h-4zM64 150h4v1h-4zM1030 150h2v1h-2zM345 236h1v1h-1zM854 236h3v1h-3zM17 134h2v1h-2zM1074 134h3v1h-3zM437 313h2v1h-2zM628 313h1v1h-1zM463 327h2v1h-2zM609 327h1v1h-1zM22 136h3v1h-3zM1070 136h2v1h-2zM360 251h1v1h-1zM813 251h2v1h-2zM1179 125h4v1h-4zM1205 119h3v1h-3zM390 282h1v1h-1zM697 282h2v1h-2zM191 181h3v1h-3zM962 181h2v1h-2zM304 207h2v1h-2zM909 207h1v1h-1zM428 307h1v1h-1zM636 307h2v1h-2zM1195 122h4v1h-4zM381 274h1v1h-1zM711 274h2v1h-2zM416 300h2v1h-2zM649 300h3v1h-3zM247 198h7v1h-7zM925 198h2v1h-2zM349 240h1v1h-1zM844 240h2v1h-2zM1250 106h4v1h-4zM52 146h3v1h-3zM1038 146h2v1h-2zM58 148h3v1h-3zM1034 148h2v1h-2zM289 202h2v1h-2zM917 202h2v1h-2zM11 132h3v1h-3zM1079 132h2v1h-2zM1227 112h3v1h-3zM28 138h3v1h-3zM1065 138h2v1h-2zM453 322h2v1h-2zM616 322h1v1h-1zM455 323h2v1h-2zM614 323h2v1h-2zM302 206h2v1h-2zM910 206h2v1h-2zM188 180h3v1h-3zM964 180h2v1h-2zM331 224h2v1h-2zM883 224h2v1h-2zM155 170h4v1h-4zM983 170h2v1h-2zM441 315h2v1h-2zM625 315h1v1h-1zM443 316h1v1h-1zM624 316h1v1h-1zM342 233h1v1h-1zM862 233h3v1h-3zM215 189h3v1h-3zM944 189h3v1h-3zM434 311h2v1h-2zM630 311h2v1h-2zM357 248h1v1h-1zM819 248h2v1h-2zM491 341h2v1h-2zM586 341h2v1h-2zM431 309h1v1h-1zM633 309h1v1h-1zM496 343h3v1h-3zM582 343h2v1h-2zM361 252h1v1h-1zM810 252h3v1h-3zM423 304h1v1h-1zM641 304h2v1h-2zM185 179h3v1h-3zM966 179h2v1h-2zM46 144h3v1h-3zM1043 144h4v1h-4zM19 135h3v1h-3zM1072 135h2v1h-2zM451 321h2v1h-2zM617 321h1v1h-1zM388 280h1v1h-1zM700 280h2v1h-2zM312 211h1v1h-1zM903 211h1v1h-1zM403 292h2v1h-2zM672 292h2v1h-2zM377 270h1v1h-1zM720 270h3v1h-3zM241 197h6v1h-6zM927 197h2v1h-2zM444 317h2v1h-2zM622 317h2v1h-2zM795 255h5v1h-5zM499 344h4v1h-4zM580 344h2v1h-2zM1192 123h3v1h-3zM457 324h2v1h-2zM613 324h1v1h-1zM523 351h4v1h-4zM559 351h4v1h-4zM325 220h1v1h-1zM890 220h1v1h-1zM354 245h1v1h-1zM827 245h3v1h-3zM393 285h1v1h-1zM692 285h2v1h-2zM432 310h2v1h-2zM632 310h1v1h-1zM412 297h1v1h-1zM659 297h3v1h-3zM1224 113h3v1h-3zM1202 120h3v1h-3zM389 281h1v1h-1zM699 281h1v1h-1zM382 275h1v1h-1zM709 275h2v1h-2zM324 219h1v1h-1zM891 219h1v1h-1zM392 284h1v1h-1zM694 284h1v1h-1zM436 312h1v1h-1zM629 312h1v1h-1zM338 228h1v1h-1zM874 228h2v1h-2zM386 279h2v1h-2zM702 279h1v1h-1zM397 289h2v1h-2zM680 289h4v1h-4zM487 339h2v1h-2zM590 339h2v1h-2zM318 215h2v1h-2zM897 215h1v1h-1zM317 214h1v1h-1zM898 214h2v1h-2zM448 319h1v1h-1zM620 319h1v1h-1zM358 249h1v1h-1zM817 249h2v1h-2zM418 301h2v1h-2zM647 301h2v1h-2zM424 305h2v1h-2zM640 305h1v1h-1zM176 176h3v1h-3zM972 176h2v1h-2zM1211 117h4v1h-4zM407 294h2v1h-2zM667 294h2v1h-2zM310 210h2v1h-2zM904 210h2v1h-2z"/>
<path fill="#ff0000" d="M352 283h1v2h-1zM392 362h1v2h-1zM395 367h1v2h-1zM337 259h1v2h-1zM341 264h1v2h-1zM384 348h1v2h-1zM366 312h1v2h-1zM351 281h1v2h-1zM375 330h1v2h-1zM378 336h1v2h-1zM360 300h1v2h-1zM494 356h1v2h-1zM868 207h1v2h-1zM373 326h1v2h-1zM369 318h1v2h-1zM394 365h1v2h-1zM385 350h1v2h-1zM386 352h1v2h-1zM368 316h1v2h-1zM371 322h1v2h-1zM353 285h1v2h-1zM342 266h1v2h-1zM377 334h1v2h-1zM355 289h1v2h-1zM362 304h1v2h-1zM344 269h1v2h-1zM379 338h1v2h-1zM361 302h1v2h-1zM346 272h1v2h-1zM407 380h1v2h-1zM370 320h1v2h-1zM906 169h1v2h-1zM387 354h1v2h-1zM390 359h1v2h-1zM372 324h1v2h-1zM916 157h1v2h-1zM354 287h1v2h-1zM357 293h1v2h-1zM364 308h1v2h-1zM389 357h1v2h-1zM381 342h1v2h-1zM363 306h1v2h-1zM330 251h1v2h-1zM910 164h1v2h-1zM380 340h1v2h-1zM347 274h1v2h-1zM350 279h1v2h-1zM374 328h1v2h-1zM359 298h1v2h-1zM356 291h1v2h-1zM383 346h1v2h-1zM358 295h1v3h-1zM365 310h1v2h-1zM382 344h1v2h-1zM367 314h1v2h-1zM349 277h1v2h-1zM376 332h1v2h-1zM309 230h1v2h-1zM343 268h1v1h-1zM659 268h5v1h-5zM952 132h2v1h-2zM1016 132h3v1h-3zM1090 132h4v1h-4zM964 126h3v1h-3zM984 126h4v1h-4zM1112 126h16v1h-16zM545 322h2v1h-2zM591 289h2v1h-2zM950 133h2v1h-2zM1019 133h6v1h-6zM1085 133h5v1h-5zM64 169h2v1h-2zM960 128h2v1h-2zM993 128h5v1h-5zM1106 128h3v1h-3zM541 324h2v1h-2zM263 218h10v1h-10zM286 218h3v1h-3zM858 218h1v1h-1zM46 163h3v1h-3zM911 163h1v1h-1zM214 198h1v1h-1zM877 198h2v1h-2zM418 388h25v1h-25zM446 388h4v1h-4zM943 137h2v1h-2zM1033 137h2v1h-2zM1046 137h16v1h-16zM207 195h4v1h-4zM881 195h1v1h-1zM408 382h1v1h-1zM464 382h2v1h-2zM507 343h1v1h-1zM637 274h3v1h-3zM327 248h1v1h-1zM723 248h14v1h-14zM775 248h2v1h-2zM348 276h1v1h-1zM632 276h3v1h-3zM251 215h4v1h-4zM861 215h1v1h-1zM74 173h3v1h-3zM903 173h1v1h-1zM329 250h1v1h-1zM717 250h3v1h-3zM742 250h4v1h-4zM770 250h2v1h-2zM1208 103h2v1h-2zM66 170h3v1h-3zM710 252h3v1h-3zM750 252h2v1h-2zM766 252h2v1h-2zM543 323h2v1h-2zM171 187h4v1h-4zM889 187h1v1h-1zM319 241h1v1h-1zM802 241h6v1h-6zM296 221h3v1h-3zM855 221h1v1h-1zM98 182h22v1h-22zM130 182h11v1h-11zM151 182h7v1h-7zM894 182h1v1h-1zM289 219h2v1h-2zM857 219h1v1h-1zM466 381h2v1h-2zM36 159h2v1h-2zM915 159h1v1h-1zM94 181h4v1h-4zM141 181h10v1h-10zM895 181h1v1h-1zM28 155h2v1h-2zM918 155h1v1h-1zM609 282h7v1h-7zM332 254h1v1h-1zM705 254h2v1h-2zM754 254h2v1h-2zM760 254h4v1h-4zM1179 111h5v1h-5zM839 231h2v1h-2zM967 125h4v1h-4zM977 125h7v1h-7zM1128 125h3v1h-3zM247 214h4v1h-4zM862 214h1v1h-1zM1238 92h3v1h-3zM175 188h4v1h-4zM888 188h1v1h-1zM624 279h3v1h-3zM1257 83h2v1h-2zM945 136h2v1h-2zM1031 136h2v1h-2zM1062 136h9v1h-9zM954 131h2v1h-2zM1010 131h6v1h-6zM1094 131h5v1h-5zM585 292h2v1h-2zM218 201h1v1h-1zM874 201h1v1h-1zM333 255h1v1h-1zM703 255h2v1h-2zM756 255h4v1h-4zM1226 96h3v1h-3zM1194 108h4v1h-4zM4 143h2v1h-2zM933 143h2v1h-2zM535 327h2v1h-2zM581 294h2v1h-2zM958 129h2v1h-2zM998 129h4v1h-4zM1103 129h3v1h-3zM560 312h1v1h-1zM16 149h2v1h-2zM925 149h1v1h-1zM397 370h1v1h-1zM481 370h1v1h-1zM8 145h2v1h-2zM930 145h1v1h-1zM601 285h3v1h-3zM962 127h2v1h-2zM988 127h5v1h-5zM1109 127h3v1h-3zM411 385h1v1h-1zM456 385h3v1h-3zM234 210h2v1h-2zM866 210h1v1h-1zM941 138h2v1h-2zM1035 138h11v1h-11zM336 258h1v1h-1zM696 258h2v1h-2zM1174 112h5v1h-5zM396 369h1v1h-1zM482 369h1v1h-1zM1146 120h2v1h-2zM692 260h2v1h-2zM971 124h6v1h-6zM1131 124h4v1h-4zM320 242h2v1h-2zM796 242h6v1h-6zM61 168h3v1h-3zM907 168h1v1h-1zM314 236h1v1h-1zM825 236h3v1h-3zM52 165h3v1h-3zM120 183h10v1h-10zM158 183h2v1h-2zM893 183h1v1h-1zM1229 95h3v1h-3zM322 243h1v1h-1zM792 243h4v1h-4zM956 130h2v1h-2zM1002 130h8v1h-8zM1099 130h4v1h-4zM203 194h4v1h-4zM882 194h1v1h-1zM1249 87h2v1h-2zM1217 99h3v1h-3zM317 239h1v1h-1zM814 239h4v1h-4zM1245 89h2v1h-2zM668 266h9v1h-9zM1213 101h2v1h-2zM398 371h1v1h-1zM480 371h1v1h-1zM24 153h2v1h-2zM920 153h1v1h-1zM569 304h1v1h-1zM72 172h2v1h-2zM904 172h1v1h-1zM313 235h1v1h-1zM828 235h3v1h-3zM167 186h4v1h-4zM890 186h1v1h-1zM655 269h4v1h-4zM1135 123h4v1h-4zM650 270h5v1h-5zM566 307h1v1h-1zM685 264h2v1h-2zM160 184h3v1h-3zM892 184h1v1h-1zM43 162h3v1h-3zM912 162h1v1h-1zM393 364h1v1h-1zM487 364h1v1h-1zM12 147h2v1h-2zM927 147h1v1h-1zM26 154h2v1h-2zM919 154h1v1h-1zM18 150h2v1h-2zM923 150h2v1h-2zM400 373h1v1h-1zM478 373h1v1h-1zM499 351h1v1h-1zM573 300h2v1h-2zM85 177h2v1h-2zM899 177h1v1h-1zM340 263h1v1h-1zM687 263h2v1h-2zM713 251h4v1h-4zM746 251h4v1h-4zM768 251h2v1h-2zM506 344h1v1h-1zM199 193h4v1h-4zM883 193h1v1h-1zM530 329h2v1h-2zM14 148h2v1h-2zM926 148h1v1h-1zM6 144h2v1h-2zM931 144h2v1h-2zM326 247h1v1h-1zM777 247h3v1h-3zM310 232h1v1h-1zM836 232h3v1h-3zM947 135h1v1h-1zM1029 135h2v1h-2zM1071 135h8v1h-8zM240 212h4v1h-4zM864 212h1v1h-1zM315 237h1v1h-1zM821 237h4v1h-4zM513 338h2v1h-2zM244 213h3v1h-3zM863 213h1v1h-1zM1168 113h6v1h-6zM316 238h1v1h-1zM818 238h3v1h-3zM163 185h4v1h-4zM891 185h1v1h-1zM259 217h4v1h-4zM273 217h13v1h-13zM859 217h1v1h-1zM532 328h3v1h-3zM1184 110h5v1h-5zM551 319h1v1h-1zM412 386h2v1h-2zM453 386h3v1h-3zM402 375h1v1h-1zM476 375h1v1h-1zM69 171h3v1h-3zM905 171h1v1h-1zM694 259h2v1h-2zM404 377h1v1h-1zM474 377h1v1h-1zM489 362h1v1h-1zM559 313h1v1h-1zM948 134h2v1h-2zM1025 134h4v1h-4zM1079 134h6v1h-6zM194 192h5v1h-5zM884 192h1v1h-1zM501 349h1v1h-1zM524 332h2v1h-2zM80 175h2v1h-2zM901 175h1v1h-1zM520 334h2v1h-2zM939 139h2v1h-2zM589 290h2v1h-2zM493 358h1v1h-1zM539 325h2v1h-2zM345 271h1v1h-1zM646 271h4v1h-4zM331 253h1v1h-1zM707 253h3v1h-3zM752 253h2v1h-2zM764 253h2v1h-2zM508 342h1v1h-1zM305 226h1v1h-1zM848 226h2v1h-2zM1247 88h2v1h-2zM10 146h2v1h-2zM928 146h2v1h-2zM307 228h1v1h-1zM845 228h2v1h-2zM20 151h2v1h-2zM922 151h1v1h-1zM635 275h2v1h-2zM179 189h4v1h-4zM887 189h1v1h-1zM1206 104h2v1h-2zM55 166h3v1h-3zM909 166h1v1h-1zM564 308h2v1h-2zM677 265h8v1h-8zM255 216h4v1h-4zM860 216h1v1h-1zM58 167h3v1h-3zM908 167h1v1h-1zM622 280h2v1h-2zM1223 97h3v1h-3zM1255 84h2v1h-2zM220 203h2v1h-2zM872 203h1v1h-1zM1189 109h5v1h-5zM232 209h2v1h-2zM867 209h1v1h-1zM1153 118h5v1h-5zM328 249h1v1h-1zM720 249h3v1h-3zM737 249h5v1h-5zM772 249h3v1h-3zM189 191h5v1h-5zM885 191h1v1h-1zM318 240h1v1h-1zM808 240h6v1h-6zM89 179h2v1h-2zM897 179h1v1h-1zM552 318h2v1h-2zM599 286h2v1h-2zM1143 121h3v1h-3zM311 233h1v1h-1zM833 233h3v1h-3zM236 211h4v1h-4zM865 211h1v1h-1zM443 389h3v1h-3zM323 244h1v1h-1zM788 244h4v1h-4zM32 157h2v1h-2zM556 315h1v1h-1zM1215 100h2v1h-2zM91 180h3v1h-3zM896 180h1v1h-1zM1148 119h5v1h-5zM664 267h4v1h-4zM299 222h2v1h-2zM854 222h1v1h-1zM567 306h1v1h-1zM405 378h1v1h-1zM472 378h2v1h-2zM40 161h3v1h-3zM913 161h1v1h-1zM557 314h2v1h-2zM485 366h1v1h-1zM500 350h1v1h-1zM414 387h4v1h-4zM450 387h3v1h-3zM522 333h2v1h-2zM82 176h3v1h-3zM900 176h1v1h-1zM324 245h1v1h-1zM784 245h4v1h-4zM497 353h1v1h-1zM325 246h1v1h-1zM780 246h4v1h-4zM492 359h1v1h-1zM504 346h1v1h-1zM410 384h1v1h-1zM459 384h3v1h-3zM1235 93h3v1h-3zM1203 105h3v1h-3zM1164 114h4v1h-4zM515 337h2v1h-2zM302 224h1v1h-1zM852 224h1v1h-1zM579 295h2v1h-2zM22 152h2v1h-2zM921 152h1v1h-1zM549 320h2v1h-2zM211 196h2v1h-2zM880 196h1v1h-1zM228 207h2v1h-2zM222 204h2v1h-2zM871 204h1v1h-1zM1158 117h2v1h-2zM183 190h6v1h-6zM886 190h1v1h-1zM399 372h1v1h-1zM479 372h1v1h-1zM587 291h2v1h-2zM217 200h1v1h-1zM875 200h1v1h-1zM642 272h4v1h-4zM486 365h1v1h-1zM409 383h1v1h-1zM462 383h2v1h-2zM335 257h1v1h-1zM698 257h2v1h-2zM30 156h2v1h-2zM917 156h1v1h-1zM213 197h1v1h-1zM879 197h1v1h-1zM87 178h2v1h-2zM898 178h1v1h-1zM401 374h1v1h-1zM477 374h1v1h-1zM570 303h1v1h-1zM291 220h5v1h-5zM856 220h1v1h-1zM1232 94h3v1h-3zM49 164h3v1h-3zM616 281h6v1h-6zM512 339h1v1h-1zM301 223h1v1h-1zM853 223h1v1h-1zM226 206h2v1h-2zM869 206h1v1h-1zM1220 98h3v1h-3zM596 287h3v1h-3zM468 380h2v1h-2zM215 199h2v1h-2zM876 199h1v1h-1zM388 356h1v1h-1zM403 376h1v1h-1zM475 376h1v1h-1zM518 335h2v1h-2zM308 229h1v1h-1zM843 229h2v1h-2zM572 301h1v1h-1zM629 277h3v1h-3zM77 174h3v1h-3zM902 174h1v1h-1zM563 309h1v1h-1zM936 141h2v1h-2zM224 205h2v1h-2zM870 205h1v1h-1zM1162 115h2v1h-2zM505 345h1v1h-1zM334 256h1v1h-1zM700 256h3v1h-3zM604 284h3v1h-3zM406 379h1v1h-1zM470 379h2v1h-2zM1253 85h2v1h-2zM509 341h1v1h-1zM303 225h2v1h-2zM850 225h2v1h-2zM607 283h2v1h-2zM578 296h1v1h-1zM339 262h1v1h-1zM689 262h1v1h-1zM510 340h2v1h-2zM338 261h1v1h-1zM690 261h2v1h-2zM640 273h2v1h-2zM484 367h1v1h-1zM1243 90h2v1h-2zM1210 102h3v1h-3zM1201 106h2v1h-2zM491 360h1v1h-1zM571 302h1v1h-1zM312 234h1v1h-1zM831 234h2v1h-2zM568 305h1v1h-1zM38 160h2v1h-2zM914 160h1v1h-1zM306 227h1v1h-1zM847 227h1v1h-1zM528 330h2v1h-2zM391 361h1v1h-1zM490 361h1v1h-1zM547 321h2v1h-2zM593 288h3v1h-3zM1251 86h2v1h-2zM34 158h2v1h-2zM577 297h1v1h-1zM230 208h2v1h-2zM554 317h1v1h-1zM841 230h2v1h-2zM938 140h1v1h-1zM1259 82h1v1h-1zM537 326h2v1h-2zM483 368h1v1h-1zM498 352h1v1h-1zM495 355h1v1h-1zM1198 107h3v1h-3zM576 298h1v1h-1zM502 348h1v1h-1zM1139 122h4v1h-4zM517 336h1v1h-1zM627 278h2v1h-2zM1241 91h2v1h-2zM935 142h1v1h-1zM583 293h2v1h-2zM562 310h1v1h-1zM1160 116h2v1h-2zM575 299h1v1h-1zM555 316h1v1h-1zM219 202h1v1h-1zM873 202h1v1h-1zM496 354h1v1h-1zM561 311h1v1h-1zM488 363h1v1h-1zM526 331h2v1h-2zM503 347h1v1h-1z"/>
<path fill="#ffa500" d="M319 273h1v3h-1zM322 284h1v4h-1zM410 395h1v3h-1zM361 396h1v2h-1zM364 402h1v2h-1zM309 242h1v4h-1zM311 250h1v3h-1zM499 337h1v3h-1zM332 311h1v4h-1zM343 354h1v4h-1zM346 365h1v3h-1zM495 346h1v2h-1zM889 134h1v2h-1zM503 326h1v3h-1zM339 339h1v4h-1zM342 350h1v4h-1zM325 296h1v3h-1zM526 288h1v2h-1zM377 428h1v2h-1zM314 259h1v3h-1zM413 388h1v2h-1zM300 218h1v2h-1zM621 272h1v2h-1zM318 270h1v3h-1zM335 323h1v4h-1zM494 348h1v2h-1zM321 280h1v4h-1zM490 355h1v2h-1zM363 400h1v2h-1zM502 329h1v2h-1zM887 138h1v3h-1zM485 361h1v2h-1zM530 283h1v2h-1zM782 239h1v2h-1zM412 390h1v3h-1zM886 141h1v2h-1zM333 315h1v4h-1zM776 247h1v2h-1zM313 256h1v3h-1zM870 174h1v2h-1zM305 229h1v3h-1zM419 370h1v4h-1zM340 343h1v4h-1zM898 119h1v2h-1zM372 418h1v2h-1zM881 152h1v2h-1zM507 318h1v2h-1zM865 184h1v3h-1zM336 327h1v4h-1zM354 382h1v2h-1zM357 388h1v2h-1zM406 405h1v3h-1zM892 128h1v2h-1zM506 320h1v2h-1zM304 227h1v2h-1zM864 187h1v2h-1zM433 349h1v2h-1zM370 414h1v2h-1zM405 408h1v2h-1zM396 421h1v2h-1zM421 365h1v2h-1zM307 235h1v3h-1zM514 306h1v2h-1zM613 283h1v2h-1zM310 246h1v4h-1zM510 313h1v2h-1zM404 410h1v2h-1zM348 370h1v2h-1zM513 308h1v2h-1zM327 301h1v2h-1zM509 315h1v2h-1zM894 125h1v2h-1zM496 344h1v2h-1zM882 150h1v2h-1zM334 319h1v4h-1zM458 354h1v2h-1zM505 322h1v2h-1zM320 276h1v4h-1zM365 404h1v2h-1zM347 368h1v2h-1zM350 374h1v2h-1zM877 160h1v2h-1zM329 305h1v2h-1zM414 385h1v3h-1zM315 262h1v3h-1zM217 220h1v2h-1zM301 220h1v2h-1zM519 298h1v2h-1zM876 162h1v2h-1zM888 136h1v2h-1zM515 304h1v2h-1zM872 170h1v2h-1zM374 422h1v2h-1zM359 392h1v2h-1zM356 386h1v2h-1zM871 172h1v2h-1zM306 232h1v3h-1zM408 400h1v3h-1zM341 347h1v3h-1zM376 426h1v2h-1zM373 420h1v2h-1zM337 331h1v4h-1zM358 390h1v2h-1zM323 288h1v4h-1zM415 383h1v2h-1zM427 357h1v2h-1zM619 275h1v2h-1zM942 120h1v2h-1zM430 353h1v2h-1zM418 374h1v4h-1zM367 408h1v2h-1zM884 145h1v2h-1zM345 361h1v4h-1zM868 178h1v2h-1zM349 372h1v2h-1zM352 378h1v2h-1zM338 335h1v4h-1zM324 292h1v4h-1zM497 342h1v2h-1zM328 303h1v2h-1zM331 309h1v2h-1zM317 267h1v3h-1zM366 406h1v2h-1zM344 358h1v3h-1zM624 268h1v2h-1zM351 376h1v2h-1zM890 132h1v2h-1zM504 324h1v2h-1zM312 253h1v3h-1zM627 264h1v2h-1zM330 307h1v2h-1zM523 292h1v2h-1zM779 243h1v2h-1zM375 424h1v2h-1zM378 430h1v2h-1zM360 394h1v2h-1zM883 147h1v3h-1zM896 122h1v2h-1zM498 340h1v2h-1zM867 180h1v2h-1zM880 154h1v2h-1zM866 182h1v2h-1zM493 350h1v2h-1zM501 331h1v3h-1zM407 403h1v2h-1zM369 412h1v2h-1zM454 349h1v2h-1zM399 417h1v2h-1zM492 352h1v2h-1zM500 334h1v3h-1zM402 413h1v2h-1zM308 238h1v4h-1zM368 410h1v2h-1zM371 416h1v2h-1zM353 380h1v2h-1zM417 378h1v2h-1zM879 156h1v2h-1zM891 130h1v2h-1zM303 225h1v2h-1zM863 189h1v2h-1zM416 380h1v3h-1zM424 361h1v2h-1zM878 158h1v2h-1zM517 301h1v2h-1zM420 367h1v3h-1zM616 279h1v2h-1zM862 191h1v2h-1zM362 398h1v2h-1zM316 265h1v2h-1zM302 222h1v3h-1zM411 393h1v2h-1zM873 168h1v2h-1zM326 299h1v2h-1zM512 310h1v2h-1zM379 432h1v2h-1zM409 398h1v2h-1zM875 164h1v2h-1zM521 295h1v2h-1zM355 384h1v2h-1zM874 166h1v2h-1zM885 143h1v2h-1zM869 176h1v2h-1zM1198 99h1v1h-1zM955 133h2v1h-2zM1018 133h9v1h-9zM1037 133h4v1h-4zM1073 133h3v1h-3zM637 254h1v1h-1zM671 254h2v1h-2zM697 254h1v1h-1zM748 254h2v1h-2zM769 254h1v1h-1zM651 245h3v1h-3zM708 245h9v1h-9zM737 245h1v1h-1zM778 245h1v1h-1zM198 209h2v1h-2zM275 209h1v1h-1zM286 209h1v1h-1zM843 209h1v1h-1zM907 112h1v1h-1zM931 112h2v1h-2zM1129 112h8v1h-8zM1154 112h8v1h-8zM202 211h3v1h-3zM272 211h1v1h-1zM289 211h1v1h-1zM841 211h1v1h-1zM161 188h2v1h-2zM900 117h1v1h-1zM939 117h1v1h-1zM1105 117h2v1h-2zM38 182h3v1h-3zM59 182h5v1h-5zM82 182h5v1h-5zM119 182h4v1h-4zM148 182h2v1h-2zM952 130h1v1h-1zM1081 130h2v1h-2zM49 185h5v1h-5zM91 185h5v1h-5zM111 185h2v1h-2zM154 185h2v1h-2zM1209 90h1v1h-1zM223 227h2v1h-2zM254 227h1v1h-1zM797 227h2v1h-2zM807 227h7v1h-7zM946 125h1v1h-1zM1089 125h1v1h-1zM957 134h1v1h-1zM1014 134h4v1h-4zM1041 134h2v1h-2zM1071 134h2v1h-2zM564 284h3v1h-3zM603 284h6v1h-6zM720 242h2v1h-2zM733 242h2v1h-2zM780 242h1v1h-1zM381 433h2v1h-2zM190 205h2v1h-2zM848 205h1v1h-1zM893 127h1v1h-1zM948 127h1v1h-1zM1086 127h2v1h-2zM35 181h3v1h-3zM64 181h18v1h-18zM123 181h3v1h-3zM146 181h2v1h-2zM182 201h2v1h-2zM853 201h1v1h-1zM908 111h10v1h-10zM930 111h1v1h-1zM1162 111h4v1h-4zM895 124h1v1h-1zM945 124h1v1h-1zM1090 124h2v1h-2zM633 258h1v1h-1zM678 258h1v1h-1zM692 258h1v1h-1zM755 258h10v1h-10zM1240 68h3v1h-3zM41 183h2v1h-2zM57 183h2v1h-2zM87 183h2v1h-2zM115 183h4v1h-4zM150 183h2v1h-2zM531 282h1v1h-1zM545 282h2v1h-2zM553 282h7v1h-7zM614 282h1v1h-1zM389 427h2v1h-2zM959 136h1v1h-1zM1009 136h2v1h-2zM1045 136h2v1h-2zM1066 136h2v1h-2zM1188 103h4v1h-4zM529 285h1v1h-1zM567 285h4v1h-4zM599 285h4v1h-4zM609 285h4v1h-4zM1213 86h1v1h-1zM429 355h1v1h-1zM961 138h2v1h-2zM1005 138h2v1h-2zM1048 138h2v1h-2zM1062 138h2v1h-2zM96 186h15v1h-15zM156 186h3v1h-3zM953 131h1v1h-1zM1079 131h2v1h-2zM918 110h2v1h-2zM928 110h2v1h-2zM1166 110h2v1h-2zM954 132h1v1h-1zM1027 132h10v1h-10zM1076 132h3v1h-3zM963 139h1v1h-1zM985 139h20v1h-20zM1050 139h2v1h-2zM1057 139h5v1h-5zM230 231h2v1h-2zM243 231h4v1h-4zM791 231h1v1h-1zM439 345h2v1h-2zM448 345h2v1h-2zM218 222h1v1h-1zM259 222h1v1h-1zM828 222h1v1h-1zM958 135h1v1h-1zM1011 135h3v1h-3zM1043 135h2v1h-2zM1068 135h3v1h-3zM1243 67h14v1h-14zM31 179h2v1h-2zM130 179h12v1h-12zM532 281h5v1h-5zM543 281h2v1h-2zM615 281h1v1h-1zM171 194h2v1h-2zM860 194h1v1h-1zM1192 102h2v1h-2zM1236 69h4v1h-4zM632 259h1v1h-1zM679 259h1v1h-1zM690 259h2v1h-2zM229 230h1v1h-1zM247 230h4v1h-4zM792 230h2v1h-2zM960 137h1v1h-1zM1007 137h2v1h-2zM1047 137h1v1h-1zM1064 137h2v1h-2zM964 140h21v1h-21zM1052 140h5v1h-5zM640 251h1v1h-1zM665 251h2v1h-2zM701 251h1v1h-1zM744 251h1v1h-1zM773 251h1v1h-1zM528 286h1v1h-1zM571 286h3v1h-3zM594 286h5v1h-5zM629 262h1v1h-1zM683 262h1v1h-1zM685 262h2v1h-2zM648 246h3v1h-3zM654 246h2v1h-2zM707 246h1v1h-1zM738 246h2v1h-2zM777 246h1v1h-1zM1178 105h5v1h-5zM525 290h1v1h-1zM180 200h2v1h-2zM854 200h1v1h-1zM901 116h2v1h-2zM938 116h1v1h-1zM1107 116h4v1h-4zM717 244h2v1h-2zM736 244h1v1h-1zM645 247h3v1h-3zM656 247h2v1h-2zM705 247h2v1h-2zM740 247h1v1h-1zM400 416h1v1h-1zM234 233h2v1h-2zM238 233h3v1h-3zM789 233h1v1h-1zM905 113h2v1h-2zM933 113h2v1h-2zM1122 113h7v1h-7zM1137 113h17v1h-17zM1218 82h2v1h-2zM166 191h2v1h-2zM159 187h2v1h-2zM222 226h1v1h-1zM255 226h1v1h-1zM799 226h8v1h-8zM814 226h4v1h-4zM638 253h1v1h-1zM669 253h2v1h-2zM698 253h1v1h-1zM747 253h1v1h-1zM770 253h1v1h-1zM641 250h1v1h-1zM663 250h2v1h-2zM702 250h1v1h-1zM743 250h1v1h-1zM774 250h1v1h-1zM214 217h1v1h-1zM265 217h1v1h-1zM297 217h2v1h-2zM834 217h1v1h-1zM722 241h1v1h-1zM730 241h3v1h-3zM781 241h1v1h-1zM209 214h2v1h-2zM268 214h1v1h-1zM292 214h1v1h-1zM837 214h1v1h-1zM719 243h1v1h-1zM735 243h1v1h-1zM1098 120h3v1h-3zM628 263h1v1h-1zM684 263h1v1h-1zM207 213h2v1h-2zM269 213h2v1h-2zM291 213h1v1h-1zM838 213h1v1h-1zM511 312h1v1h-1zM950 129h2v1h-2zM1083 129h2v1h-2zM1206 92h1v1h-1zM225 228h2v1h-2zM253 228h1v1h-1zM795 228h2v1h-2zM473 368h2v1h-2zM476 368h2v1h-2zM188 204h2v1h-2zM849 204h2v1h-2zM537 280h6v1h-6zM29 178h2v1h-2zM200 210h2v1h-2zM273 210h2v1h-2zM287 210h2v1h-2zM842 210h1v1h-1zM434 348h1v1h-1zM453 348h1v1h-1zM631 260h1v1h-1zM680 260h1v1h-1zM689 260h1v1h-1zM1183 104h5v1h-5zM177 198h1v1h-1zM856 198h1v1h-1zM527 287h1v1h-1zM574 287h4v1h-4zM585 287h9v1h-9zM626 266h1v1h-1zM43 184h6v1h-6zM54 184h3v1h-3zM89 184h2v1h-2zM113 184h2v1h-2zM152 184h2v1h-2zM547 283h6v1h-6zM560 283h4v1h-4zM464 361h1v1h-1zM422 364h1v1h-1zM467 364h1v1h-1zM483 364h1v1h-1zM639 252h1v1h-1zM667 252h2v1h-2zM699 252h2v1h-2zM745 252h2v1h-2zM771 252h2v1h-2zM24 174h1v1h-1zM221 225h1v1h-1zM256 225h1v1h-1zM818 225h4v1h-4zM635 256h1v1h-1zM675 256h1v1h-1zM694 256h2v1h-2zM752 256h1v1h-1zM766 256h2v1h-2zM163 189h2v1h-2zM634 257h1v1h-1zM676 257h2v1h-2zM693 257h1v1h-1zM753 257h2v1h-2zM765 257h1v1h-1zM642 249h1v1h-1zM660 249h3v1h-3zM703 249h1v1h-1zM742 249h1v1h-1zM775 249h1v1h-1zM1212 87h1v1h-1zM385 430h2v1h-2zM723 240h2v1h-2zM727 240h3v1h-3zM213 216h1v1h-1zM266 216h1v1h-1zM295 216h2v1h-2zM835 216h1v1h-1zM205 212h2v1h-2zM271 212h1v1h-1zM290 212h1v1h-1zM839 212h2v1h-2zM219 223h1v1h-1zM258 223h1v1h-1zM826 223h2v1h-2zM441 344h2v1h-2zM446 344h2v1h-2zM20 171h1v1h-1zM232 232h2v1h-2zM241 232h2v1h-2zM790 232h1v1h-1zM186 203h2v1h-2zM851 203h1v1h-1zM903 115h1v1h-1zM937 115h1v1h-1zM1111 115h6v1h-6zM216 219h1v1h-1zM262 219h1v1h-1zM831 219h2v1h-2zM1227 75h1v1h-1zM643 248h2v1h-2zM658 248h2v1h-2zM704 248h1v1h-1zM741 248h1v1h-1zM1199 98h1v1h-1zM194 207h2v1h-2zM278 207h4v1h-4zM284 207h1v1h-1zM845 207h2v1h-2zM423 363h1v1h-1zM466 363h1v1h-1zM484 363h1v1h-1zM236 234h2v1h-2zM788 234h1v1h-1zM897 121h1v1h-1zM1096 121h2v1h-2zM26 176h2v1h-2zM174 196h2v1h-2zM858 196h1v1h-1zM215 218h1v1h-1zM263 218h2v1h-2zM299 218h1v1h-1zM833 218h1v1h-1zM22 173h2v1h-2zM636 255h1v1h-1zM673 255h2v1h-2zM696 255h1v1h-1zM750 255h2v1h-2zM768 255h1v1h-1zM1205 93h1v1h-1zM920 109h2v1h-2zM927 109h1v1h-1zM1168 109h1v1h-1zM475 369h1v1h-1zM33 180h2v1h-2zM126 180h4v1h-4zM142 180h4v1h-4zM1174 106h4v1h-4zM491 354h1v1h-1zM904 114h1v1h-1zM935 114h2v1h-2zM1117 114h5v1h-5zM227 229h2v1h-2zM251 229h2v1h-2zM794 229h1v1h-1zM630 261h1v1h-1zM681 261h2v1h-2zM687 261h2v1h-2zM170 193h1v1h-1zM861 193h1v1h-1zM184 202h2v1h-2zM852 202h1v1h-1zM401 415h1v1h-1zM426 359h1v1h-1zM462 359h1v1h-1zM487 359h1v1h-1zM460 357h1v1h-1zM489 357h1v1h-1zM220 224h1v1h-1zM257 224h1v1h-1zM822 224h4v1h-4zM1220 81h1v1h-1zM192 206h2v1h-2zM282 206h2v1h-2zM847 206h1v1h-1zM211 215h2v1h-2zM267 215h1v1h-1zM293 215h2v1h-2zM836 215h1v1h-1zM618 277h1v1h-1zM393 424h2v1h-2zM173 195h1v1h-1zM859 195h1v1h-1zM922 108h2v1h-2zM925 108h2v1h-2zM1169 108h2v1h-2zM1224 77h2v1h-2zM443 343h3v1h-3zM380 434h1v1h-1zM1226 76h1v1h-1zM425 360h1v1h-1zM463 360h1v1h-1zM486 360h1v1h-1zM578 288h7v1h-7zM899 118h1v1h-1zM940 118h1v1h-1zM1103 118h2v1h-2zM1234 70h2v1h-2zM468 365h1v1h-1zM481 365h2v1h-2zM1210 89h1v1h-1zM1257 66h3v1h-3zM383 432h1v1h-1zM524 291h1v1h-1zM1221 80h1v1h-1zM465 362h1v1h-1zM1228 74h1v1h-1zM431 352h1v1h-1zM456 352h1v1h-1zM518 300h1v1h-1zM786 235h2v1h-2zM196 208h2v1h-2zM276 208h2v1h-2zM285 208h1v1h-1zM844 208h1v1h-1zM944 123h1v1h-1zM1092 123h2v1h-2zM1230 72h2v1h-2zM1203 95h1v1h-1zM924 107h1v1h-1zM1171 107h3v1h-3zM947 126h1v1h-1zM1088 126h1v1h-1zM387 429h1v1h-1zM1232 71h2v1h-2zM432 351h1v1h-1zM455 351h1v1h-1zM461 358h1v1h-1zM488 358h1v1h-1zM622 271h1v1h-1zM261 220h1v1h-1zM830 220h1v1h-1zM471 367h2v1h-2zM478 367h2v1h-2zM943 122h1v1h-1zM1094 122h2v1h-2zM1194 101h2v1h-2zM1196 100h2v1h-2zM1204 94h1v1h-1zM1211 88h1v1h-1zM949 128h1v1h-1zM1085 128h1v1h-1zM384 431h1v1h-1zM941 119h1v1h-1zM1101 119h2v1h-2zM469 366h2v1h-2zM480 366h1v1h-1zM617 278h1v1h-1zM392 425h1v1h-1zM623 270h1v1h-1zM437 346h2v1h-2zM450 346h2v1h-2zM1217 83h1v1h-1zM784 237h1v1h-1zM260 221h1v1h-1zM829 221h1v1h-1zM397 420h1v1h-1zM25 175h1v1h-1zM165 190h1v1h-1zM725 239h2v1h-2zM9 162h1v1h-1zM16 168h2v1h-2zM11 164h2v1h-2zM435 347h2v1h-2zM452 347h1v1h-1zM1214 85h2v1h-2zM391 426h1v1h-1zM176 197h1v1h-1zM857 197h1v1h-1zM398 419h1v1h-1zM1222 79h1v1h-1zM7 161h2v1h-2zM516 303h1v1h-1zM783 238h1v1h-1zM508 317h1v1h-1zM1202 96h1v1h-1zM178 199h2v1h-2zM855 199h1v1h-1zM1200 97h2v1h-2zM28 177h1v1h-1zM168 192h2v1h-2zM1207 91h2v1h-2zM522 294h1v1h-1zM785 236h1v1h-1zM13 165h1v1h-1zM388 428h1v1h-1zM403 412h1v1h-1zM428 356h1v1h-1zM459 356h1v1h-1zM18 169h1v1h-1zM620 274h1v1h-1zM19 170h1v1h-1zM14 166h1v1h-1zM15 167h1v1h-1zM457 353h1v1h-1zM10 163h1v1h-1zM6 160h1v1h-1zM1216 84h1v1h-1zM625 267h1v1h-1zM1223 78h1v1h-1zM520 297h1v1h-1zM395 423h1v1h-1zM1229 73h1v1h-1zM21 172h1v1h-1z"/>
<rect x="4" y="45" width="1592" height="2" fill="#ff0000"/>
<rect x="4" y="71" width="1592" height="2" fill="#ff0000"/>
<rect x="4" y="101" width="1592" height="2" fill="#00ff00"/>
<rect x="4" y="128" width="1592" height="2" fill="#0000ff"/>
<rect x="4" y="156" width="1592" height="2" fill="#0000ff"/>
<rect x="4" y="193" width="1592" height="2" fill="#0000ff"/>
<rect x="4" y="240" width="1592" height="2" fill="#0000ff"/>
</g>
<rect x="1596" y="56" width="1" height="1" fill="#c0c0c0"/>
<rect x="3" y="43" width="6" height="6" fill="#ff0000"/>
<rect x="5" y="45" width="2" height="2" fill="#fff"/>
<rect x="1590" y="43" width="6" height="6" fill="#ff0000"/>
<rect x="1592" y="45" width="2" height="2" fill="#fff"/>
<rect x="3" y="69" width="6" height="6" fill="#ff0000"/>
<rect x="5" y="71" width="2" height="2" fill="#fff"/>
<rect x="1590" y="69" width="6" height="6" fill="#ff0000"/>
<rect x="1592" y="71" width="2" height="2" fill="#fff"/>
<rect x="3" y="99" width="6" height="6" fill="#00ff00"/>
<rect x="5" y="101" width="2" height="2" fill="#fff"/>
<rect x="1590" y="99" width="6" height="6" fill="#00ff00"/>
<rect x="1592" y="101" width="2" height="2" fill="#fff"/>
<rect x="3" y="126" width="6" height="6" fill="#0000ff"/>
<rect x="5" y="128" width="2" height="2" fill="#fff"/>
<rect x="1590" y="126" width="6" height="6" fill="#0000ff"/>
<rect x="1592" y="128" width="2" height="2" fill="#fff"/>
<rect x="3" y="154" width="6" height="6" fill="#0000ff"/>
<rect x="5" y="156" width="2" height="2" fill="#fff"/>
<rect x="1590" y="154" width="6" height="6" fill="#0000ff"/>
<rect x="1592" y="156" width="2" height="2" fill="#fff"/>
<rect x="3" y="238" width="6" height="6" fill="#0000ff"/>
<rect x="5" y="240" width="2" height="2" fill="#fff"/>
<rect x="1590" y="238" width="6" height="6" fill="#0000ff"/>
<rect x="1592" y="240" width="2" height="2" fill="#fff"/>
<rect x="1597" y="34" width="2" height="1" fill="#000000"/>
<text transform="translate(1602 38) scale(0.885 1)" font-size="10.2" fill="#000" stroke="#000" stroke-width="0.15">0.72405</text>
<rect x="1597" y="67" width="2" height="1" fill="#000000"/>
<text transform="translate(1602 71) scale(0.885 1)" font-size="10.2" fill="#000" stroke="#000" stroke-width="0.15">0.71250</text>
<rect x="1597" y="100" width="2" height="1" fill="#000000"/>
<text transform="translate(1602 104) scale(0.885 1)" font-size="10.2" fill="#000" stroke="#000" stroke-width="0.15">0.70095</text>
<rect x="1597" y="133" width="2" height="1" fill="#000000"/>
<text transform="translate(1602 137) scale(0.885 1)" font-size="10.2" fill="#000" stroke="#000" stroke-width="0.15">0.68870</text>
<rect x="1597" y="166" width="2" height="1" fill="#000000"/>
<text transform="translate(1602 170) scale(0.885 1)" font-size="10.2" fill="#000" stroke="#000" stroke-width="0.15">0.67715</text>
<rect x="1597" y="199" width="2" height="1" fill="#000000"/>
<text transform="translate(1602 203) scale(0.885 1)" font-size="10.2" fill="#000" stroke="#000" stroke-width="0.15">0.66525</text>
<rect x="1597" y="232" width="2" height="1" fill="#000000"/>
<text transform="translate(1602 236) scale(0.885 1)" font-size="10.2" fill="#000" stroke="#000" stroke-width="0.15">0.65335</text>
<rect x="1597" y="265" width="2" height="1" fill="#000000"/>
<text transform="translate(1602 269) scale(0.885 1)" font-size="10.2" fill="#000" stroke="#000" stroke-width="0.15">0.64180</text>
<rect x="1597" y="298" width="2" height="1" fill="#000000"/>
<text transform="translate(1602 302) scale(0.885 1)" font-size="10.2" fill="#000" stroke="#000" stroke-width="0.15">0.62990</text>
<rect x="1597" y="331" width="2" height="1" fill="#000000"/>
<text transform="translate(1602 335) scale(0.885 1)" font-size="10.2" fill="#000" stroke="#000" stroke-width="0.15">0.61800</text>
<rect x="1597" y="364" width="2" height="1" fill="#000000"/>
<text transform="translate(1602 368) scale(0.885 1)" font-size="10.2" fill="#000" stroke="#000" stroke-width="0.15">0.60645</text>
<rect x="1597" y="397" width="2" height="1" fill="#000000"/>
<text transform="translate(1602 401) scale(0.885 1)" font-size="10.2" fill="#000" stroke="#000" stroke-width="0.15">0.59455</text>
<rect x="1597" y="430" width="2" height="1" fill="#000000"/>
<text transform="translate(1602 434) scale(0.885 1)" font-size="10.2" fill="#000" stroke="#000" stroke-width="0.15">0.58300</text>
<rect x="1597" y="463" width="2" height="1" fill="#000000"/>
<text transform="translate(1602 467) scale(0.885 1)" font-size="10.2" fill="#000" stroke="#000" stroke-width="0.15">0.57110</text>
<rect x="1597" y="496" width="2" height="1" fill="#000000"/>
<text transform="translate(1602 500) scale(0.885 1)" font-size="10.2" fill="#000" stroke="#000" stroke-width="0.15">0.55920</text>
<rect x="1597" y="529" width="2" height="1" fill="#000000"/>
<text transform="translate(1602 533) scale(0.885 1)" font-size="10.2" fill="#000" stroke="#000" stroke-width="0.15">0.54765</text>
<rect x="1598" y="40" width="37" height="11" fill="#ff0000"/>
<text transform="translate(1602 49) scale(0.885 1)" font-size="10.2" fill="#fff" stroke="#fff" stroke-width="0.15">0.72001</text>
<rect x="1598" y="66" width="37" height="11" fill="#ff0000"/>
<text transform="translate(1602 75) scale(0.885 1)" font-size="10.2" fill="#fff" stroke="#fff" stroke-width="0.15">0.71046</text>
<rect x="1598" y="96" width="37" height="11" fill="#00ff00"/>
<text transform="translate(1602 105) scale(0.885 1)" font-size="10.2" fill="#fff" stroke="#fff" stroke-width="0.15">0.70007</text>
<rect x="1598" y="123" width="37" height="11" fill="#0000ff"/>
<text transform="translate(1602 132) scale(0.885 1)" font-size="10.2" fill="#fff" stroke="#fff" stroke-width="0.15">0.69010</text>
<rect x="1598" y="151" width="37" height="11" fill="#0000ff"/>
<text transform="translate(1602 160) scale(0.885 1)" font-size="10.2" fill="#fff" stroke="#fff" stroke-width="0.15">0.68017</text>
<rect x="1598" y="188" width="37" height="11" fill="#0000ff"/>
<text transform="translate(1602 197) scale(0.885 1)" font-size="10.2" fill="#fff" stroke="#fff" stroke-width="0.15">0.66706</text>
<rect x="1598" y="235" width="37" height="11" fill="#0000ff"/>
<text transform="translate(1602 244) scale(0.885 1)" font-size="10.2" fill="#fff" stroke="#fff" stroke-width="0.15">0.65020</text>
<rect x="1598" y="51" width="37" height="11" fill="#000"/>
<text transform="translate(1602 60) scale(0.885 1)" font-size="10.2" fill="#fff" stroke="#fff" stroke-width="0.15">0.71615</text>
<path d="M7 33 L14 33 L10.5 37 Z" fill="#000"/>
<text x="19.7" y="38" font-size="10.2" fill="#000" textLength="65.3" lengthAdjust="spacingAndGlyphs" stroke="#000" stroke-width="0.15">AUDUSD,Daily</text>
<text x="90.8" y="38" font-size="10.2" fill="#000" textLength="32.6" lengthAdjust="spacingAndGlyphs" stroke="#000" stroke-width="0.15">0.71604</text>
<text x="127.1" y="38" font-size="10.2" fill="#000" textLength="32.6" lengthAdjust="spacingAndGlyphs" stroke="#000" stroke-width="0.15">0.71667</text>
<text x="163.6" y="38" font-size="10.2" fill="#000" textLength="32.6" lengthAdjust="spacingAndGlyphs" stroke="#000" stroke-width="0.15">0.71517</text>
<text x="199.5" y="38" font-size="10.2" fill="#000" textLength="32.6" lengthAdjust="spacingAndGlyphs" stroke="#000" stroke-width="0.15">0.71615</text>
<defs><clipPath id="cr"><rect x="4" y="535" width="1592" height="91"/></clipPath><clipPath id="cd"><rect x="4" y="629" width="1592" height="91"/></clipPath></defs>
<g clip-path="url(#cr)">
<line x1="5" y1="562.5" x2="1596" y2="562.5" stroke="#c0c0c0" stroke-width="1" stroke-dasharray="3 3"/>
<line x1="5" y1="598.5" x2="1596" y2="598.5" stroke="#c0c0c0" stroke-width="1" stroke-dasharray="3 3"/>
<path fill="#1e90ff" d="M929 565h1v2h-1zM51 597h1v2h-1zM290 591h1v2h-1zM301 591h1v2h-1zM931 568h1v2h-1zM94 597h1v2h-1zM1200 562h1v2h-1zM383 605h1v2h-1zM227 598h1v2h-1zM284 580h1v2h-1zM303 594h1v2h-1zM242 586h1v2h-1zM238 593h1v2h-1zM223 604h1v2h-1zM241 588h1v2h-1zM237 595h1v2h-1zM286 584h1v2h-1zM285 582h1v2h-1zM48 601h1v2h-1zM306 598h1v2h-1zM221 607h1v2h-1zM287 586h1v2h-1zM225 601h1v2h-1zM289 589h1v2h-1zM387 598h1v2h-1zM98 592h1v2h-1zM386 600h1v2h-1zM382 607h1v2h-1zM925 559h1v2h-1zM927 562h1v2h-1zM291 593h1v2h-1zM243 584h1v2h-1zM45 605h1v2h-1zM239 591h1v2h-1zM385 602h1v2h-1zM381 609h1v2h-1zM503 571h8v1h-8zM537 571h1v1h-1zM571 571h2v1h-2zM617 571h1v1h-1zM648 571h1v1h-1zM692 571h3v1h-3zM710 571h2v1h-2zM769 571h2v1h-2zM785 571h2v1h-2zM815 571h1v1h-1zM826 571h2v1h-2zM830 571h2v1h-2zM934 571h3v1h-3zM962 571h6v1h-6zM972 571h2v1h-2zM1004 571h2v1h-2zM1015 571h1v1h-1zM1079 571h2v1h-2zM1136 571h2v1h-2zM1141 571h2v1h-2zM81 601h8v1h-8zM165 601h2v1h-2zM189 601h5v1h-5zM212 601h1v1h-1zM309 601h2v1h-2zM630 566h4v1h-4zM640 566h4v1h-4zM856 566h1v1h-1zM1168 566h5v1h-5zM1197 566h1v1h-1zM1229 566h5v1h-5zM15 606h3v1h-3zM202 606h2v1h-2zM205 606h2v1h-2zM217 606h1v1h-1zM222 606h1v1h-1zM329 606h4v1h-4zM495 573h3v1h-3zM539 573h1v1h-1zM554 573h13v1h-13zM574 573h1v1h-1zM595 573h5v1h-5zM613 573h2v1h-2zM650 573h1v1h-1zM675 573h3v1h-3zM689 573h2v1h-2zM713 573h1v1h-1zM723 573h3v1h-3zM764 573h2v1h-2zM789 573h2v1h-2zM809 573h5v1h-5zM939 573h6v1h-6zM953 573h5v1h-5zM976 573h2v1h-2zM1000 573h2v1h-2zM1017 573h1v1h-1zM1062 573h4v1h-4zM49 600h1v1h-1zM77 600h4v1h-4zM89 600h4v1h-4zM163 600h2v1h-2zM167 600h3v1h-3zM184 600h5v1h-5zM226 600h1v1h-1zM307 600h2v1h-2zM492 574h3v1h-3zM540 574h3v1h-3zM552 574h2v1h-2zM575 574h1v1h-1zM593 574h2v1h-2zM600 574h13v1h-13zM651 574h1v1h-1zM673 574h2v1h-2zM678 574h2v1h-2zM688 574h1v1h-1zM714 574h2v1h-2zM719 574h4v1h-4zM726 574h2v1h-2zM763 574h1v1h-1zM791 574h4v1h-4zM801 574h8v1h-8zM945 574h8v1h-8zM978 574h2v1h-2zM998 574h2v1h-2zM1018 574h1v1h-1zM1060 574h2v1h-2zM484 577h3v1h-3zM578 577h1v1h-1zM586 577h3v1h-3zM684 577h1v1h-1zM732 577h2v1h-2zM759 577h2v1h-2zM1034 577h17v1h-17zM1054 577h2v1h-2zM634 565h6v1h-6zM857 565h2v1h-2zM1198 565h1v1h-1zM1228 565h1v1h-1zM1234 565h5v1h-5zM24 608h13v1h-13zM219 608h1v1h-1zM336 608h3v1h-3zM99 591h1v1h-1zM145 591h2v1h-2zM298 591h2v1h-2zM401 591h1v1h-1zM527 568h4v1h-4zM533 568h1v1h-1zM622 568h3v1h-3zM645 568h1v1h-1zM779 568h2v1h-2zM819 568h1v1h-1zM821 568h2v1h-2zM836 568h3v1h-3zM853 568h2v1h-2zM1011 568h2v1h-2zM1097 568h3v1h-3zM1104 568h15v1h-15zM1147 568h4v1h-4zM1160 568h2v1h-2zM1176 568h3v1h-3zM1185 568h8v1h-8zM50 599h1v1h-1zM76 599h1v1h-1zM93 599h1v1h-1zM162 599h1v1h-1zM170 599h14v1h-14zM869 559h3v1h-3zM913 559h2v1h-2zM919 559h4v1h-4zM1203 559h1v1h-1zM1222 559h1v1h-1zM4 603h3v1h-3zM47 603h1v1h-1zM197 603h2v1h-2zM209 603h2v1h-2zM214 603h1v1h-1zM224 603h1v1h-1zM313 603h2v1h-2zM272 581h6v1h-6zM419 581h4v1h-4zM478 581h2v1h-2zM744 581h9v1h-9zM342 610h2v1h-2zM353 610h25v1h-25zM874 557h16v1h-16zM895 557h4v1h-4zM905 557h5v1h-5zM1207 557h4v1h-4zM1217 557h4v1h-4zM511 570h9v1h-9zM535 570h2v1h-2zM618 570h2v1h-2zM647 570h1v1h-1zM695 570h4v1h-4zM705 570h5v1h-5zM771 570h4v1h-4zM783 570h2v1h-2zM816 570h2v1h-2zM825 570h1v1h-1zM832 570h2v1h-2zM843 570h6v1h-6zM932 570h2v1h-2zM968 570h4v1h-4zM1006 570h3v1h-3zM1014 570h1v1h-1zM1081 570h13v1h-13zM1123 570h13v1h-13zM1143 570h2v1h-2zM1155 570h3v1h-3zM487 576h3v1h-3zM547 576h3v1h-3zM577 576h1v1h-1zM589 576h2v1h-2zM656 576h14v1h-14zM682 576h2v1h-2zM685 576h2v1h-2zM730 576h2v1h-2zM761 576h1v1h-1zM1020 576h14v1h-14zM1056 576h2v1h-2zM520 569h7v1h-7zM534 569h1v1h-1zM620 569h2v1h-2zM646 569h1v1h-1zM699 569h6v1h-6zM775 569h4v1h-4zM781 569h2v1h-2zM818 569h1v1h-1zM823 569h2v1h-2zM834 569h2v1h-2zM839 569h4v1h-4zM849 569h4v1h-4zM1009 569h2v1h-2zM1013 569h1v1h-1zM1094 569h3v1h-3zM1119 569h4v1h-4zM1145 569h2v1h-2zM1151 569h4v1h-4zM1158 569h2v1h-2zM1179 569h6v1h-6zM107 586h2v1h-2zM111 586h4v1h-4zM409 586h2v1h-2zM445 586h3v1h-3zM473 586h1v1h-1zM18 607h6v1h-6zM37 607h8v1h-8zM204 607h1v1h-1zM218 607h1v1h-1zM333 607h3v1h-3zM864 561h2v1h-2zM926 561h1v1h-1zM1201 561h1v1h-1zM1224 561h1v1h-1zM1246 561h4v1h-4zM100 590h1v1h-1zM128 590h9v1h-9zM142 590h3v1h-3zM240 590h1v1h-1zM300 590h1v1h-1zM402 590h2v1h-2zM458 590h11v1h-11zM531 567h2v1h-2zM625 567h5v1h-5zM644 567h1v1h-1zM820 567h1v1h-1zM855 567h1v1h-1zM930 567h1v1h-1zM1100 567h4v1h-4zM1162 567h6v1h-6zM1173 567h3v1h-3zM1193 567h4v1h-4zM74 598h2v1h-2zM160 598h2v1h-2zM256 584h3v1h-3zM262 584h2v1h-2zM413 584h2v1h-2zM435 584h8v1h-8zM475 584h1v1h-1zM498 572h5v1h-5zM538 572h1v1h-1zM567 572h4v1h-4zM573 572h1v1h-1zM615 572h2v1h-2zM649 572h1v1h-1zM691 572h1v1h-1zM712 572h1v1h-1zM766 572h3v1h-3zM787 572h2v1h-2zM814 572h1v1h-1zM828 572h2v1h-2zM937 572h2v1h-2zM958 572h4v1h-4zM974 572h2v1h-2zM1002 572h2v1h-2zM1016 572h1v1h-1zM1066 572h13v1h-13zM1138 572h3v1h-3zM7 604h4v1h-4zM46 604h1v1h-1zM199 604h2v1h-2zM208 604h1v1h-1zM215 604h1v1h-1zM315 604h2v1h-2zM384 604h1v1h-1zM101 589h2v1h-2zM122 589h6v1h-6zM137 589h5v1h-5zM404 589h1v1h-1zM454 589h4v1h-4zM469 589h1v1h-1zM866 560h3v1h-3zM915 560h4v1h-4zM1202 560h1v1h-1zM1223 560h1v1h-1zM1250 560h10v1h-10zM105 587h2v1h-2zM115 587h3v1h-3zM407 587h2v1h-2zM448 587h2v1h-2zM471 587h2v1h-2zM344 611h3v1h-3zM350 611h3v1h-3zM378 611h3v1h-3zM54 595h3v1h-3zM70 595h2v1h-2zM96 595h1v1h-1zM155 595h2v1h-2zM292 595h1v1h-1zM395 595h2v1h-2zM266 582h6v1h-6zM417 582h2v1h-2zM423 582h4v1h-4zM477 582h1v1h-1zM859 564h1v1h-1zM928 564h1v1h-1zM1199 564h1v1h-1zM1227 564h1v1h-1zM1239 564h2v1h-2zM57 594h3v1h-3zM66 594h4v1h-4zM97 594h1v1h-1zM153 594h2v1h-2zM293 594h2v1h-2zM397 594h1v1h-1zM11 605h4v1h-4zM201 605h1v1h-1zM207 605h1v1h-1zM216 605h1v1h-1zM317 605h12v1h-12zM109 585h2v1h-2zM259 585h3v1h-3zM411 585h2v1h-2zM443 585h2v1h-2zM474 585h1v1h-1zM73 597h1v1h-1zM159 597h1v1h-1zM228 597h9v1h-9zM305 597h1v1h-1zM388 597h3v1h-3zM52 596h2v1h-2zM72 596h1v1h-1zM95 596h1v1h-1zM157 596h2v1h-2zM304 596h1v1h-1zM391 596h4v1h-4zM278 580h4v1h-4zM480 580h1v1h-1zM738 580h6v1h-6zM753 580h4v1h-4zM890 556h5v1h-5zM1211 556h6v1h-6zM347 612h3v1h-3zM490 575h2v1h-2zM543 575h4v1h-4zM550 575h2v1h-2zM576 575h1v1h-1zM591 575h2v1h-2zM652 575h4v1h-4zM670 575h3v1h-3zM680 575h2v1h-2zM687 575h1v1h-1zM716 575h3v1h-3zM728 575h2v1h-2zM762 575h1v1h-1zM795 575h6v1h-6zM980 575h18v1h-18zM1019 575h1v1h-1zM1058 575h2v1h-2zM872 558h2v1h-2zM899 558h6v1h-6zM910 558h3v1h-3zM923 558h2v1h-2zM1204 558h3v1h-3zM1221 558h1v1h-1zM244 583h12v1h-12zM264 583h2v1h-2zM415 583h2v1h-2zM427 583h8v1h-8zM476 583h1v1h-1zM282 579h2v1h-2zM481 579h1v1h-1zM580 579h2v1h-2zM736 579h2v1h-2zM757 579h1v1h-1zM482 578h2v1h-2zM579 578h1v1h-1zM582 578h4v1h-4zM734 578h2v1h-2zM758 578h1v1h-1zM1051 578h3v1h-3zM194 602h3v1h-3zM211 602h1v1h-1zM213 602h1v1h-1zM311 602h2v1h-2zM147 592h3v1h-3zM297 592h1v1h-1zM400 592h1v1h-1zM220 609h1v1h-1zM339 609h3v1h-3zM60 593h6v1h-6zM150 593h3v1h-3zM295 593h2v1h-2zM302 593h1v1h-1zM398 593h2v1h-2zM862 562h2v1h-2zM1225 562h1v1h-1zM1243 562h3v1h-3zM103 588h2v1h-2zM118 588h4v1h-4zM288 588h1v1h-1zM405 588h2v1h-2zM450 588h4v1h-4zM470 588h1v1h-1zM860 563h2v1h-2zM1226 563h1v1h-1zM1241 563h2v1h-2z"/>
</g>
<text x="8.3" y="547" font-size="10.2" fill="#000" textLength="67.3" lengthAdjust="spacingAndGlyphs" stroke="#000" stroke-width="0.15">RSI(14) 72.6747</text>
<rect x="1597" y="536" width="1" height="1" fill="#000000"/>
<rect x="1597" y="562" width="1" height="1" fill="#000000"/>
<rect x="1597" y="598" width="1" height="1" fill="#000000"/>
<rect x="1597" y="625" width="1" height="1" fill="#000000"/>
<text transform="translate(1600.5 545) scale(0.885 1)" font-size="10.2" fill="#000" stroke="#000" stroke-width="0.15">100</text>
<text transform="translate(1600.5 566) scale(0.885 1)" font-size="10.2" fill="#000" stroke="#000" stroke-width="0.15">70</text>
<text transform="translate(1600.5 602) scale(0.885 1)" font-size="10.2" fill="#000" stroke="#000" stroke-width="0.15">30</text>
<text transform="translate(1600 623) scale(0.885 1)" font-size="10.2" fill="#000" stroke="#000" stroke-width="0.15">0</text>
<g clip-path="url(#cd)">
<rect x="12" y="665" width="1" height="8" fill="#c0c0c0"/>
<rect x="20" y="665" width="1" height="9" fill="#c0c0c0"/>
<rect x="28" y="665" width="1" height="11" fill="#c0c0c0"/>
<rect x="36" y="665" width="1" height="9" fill="#c0c0c0"/>
<rect x="44" y="665" width="1" height="12" fill="#c0c0c0"/>
<rect x="52" y="665" width="1" height="11" fill="#c0c0c0"/>
<rect x="60" y="665" width="1" height="9" fill="#c0c0c0"/>
<rect x="68" y="665" width="1" height="8" fill="#c0c0c0"/>
<rect x="76" y="665" width="1" height="9" fill="#c0c0c0"/>
<rect x="84" y="665" width="1" height="11" fill="#c0c0c0"/>
<rect x="92" y="665" width="1" height="11" fill="#c0c0c0"/>
<rect x="100" y="665" width="1" height="10" fill="#c0c0c0"/>
<rect x="108" y="665" width="1" height="8" fill="#c0c0c0"/>
<rect x="116" y="665" width="1" height="7" fill="#c0c0c0"/>
<rect x="124" y="665" width="1" height="7" fill="#c0c0c0"/>
<rect x="132" y="665" width="1" height="7" fill="#c0c0c0"/>
<rect x="140" y="665" width="1" height="7" fill="#c0c0c0"/>
<rect x="148" y="665" width="1" height="7" fill="#c0c0c0"/>
<rect x="156" y="665" width="1" height="7" fill="#c0c0c0"/>
<rect x="164" y="665" width="1" height="8" fill="#c0c0c0"/>
<rect x="172" y="665" width="1" height="8" fill="#c0c0c0"/>
<rect x="180" y="665" width="1" height="9" fill="#c0c0c0"/>
<rect x="188" y="665" width="1" height="9" fill="#c0c0c0"/>
<rect x="196" y="665" width="1" height="9" fill="#c0c0c0"/>
<rect x="204" y="665" width="1" height="9" fill="#c0c0c0"/>
<rect x="212" y="665" width="1" height="11" fill="#c0c0c0"/>
<rect x="220" y="665" width="1" height="13" fill="#c0c0c0"/>
<rect x="228" y="665" width="1" height="13" fill="#c0c0c0"/>
<rect x="236" y="665" width="1" height="13" fill="#c0c0c0"/>
<rect x="244" y="665" width="1" height="12" fill="#c0c0c0"/>
<rect x="252" y="665" width="1" height="11" fill="#c0c0c0"/>
<rect x="260" y="665" width="1" height="10" fill="#c0c0c0"/>
<rect x="268" y="665" width="1" height="9" fill="#c0c0c0"/>
<rect x="276" y="665" width="1" height="6" fill="#c0c0c0"/>
<rect x="284" y="665" width="1" height="6" fill="#c0c0c0"/>
<rect x="292" y="665" width="1" height="8" fill="#c0c0c0"/>
<rect x="300" y="665" width="1" height="9" fill="#c0c0c0"/>
<rect x="308" y="665" width="1" height="14" fill="#c0c0c0"/>
<rect x="316" y="665" width="1" height="19" fill="#c0c0c0"/>
<rect x="324" y="665" width="1" height="24" fill="#c0c0c0"/>
<rect x="332" y="665" width="1" height="27" fill="#c0c0c0"/>
<rect x="340" y="665" width="1" height="32" fill="#c0c0c0"/>
<rect x="348" y="665" width="1" height="39" fill="#c0c0c0"/>
<rect x="356" y="665" width="1" height="43" fill="#c0c0c0"/>
<rect x="364" y="665" width="1" height="46" fill="#c0c0c0"/>
<rect x="372" y="665" width="1" height="48" fill="#c0c0c0"/>
<rect x="380" y="665" width="1" height="50" fill="#c0c0c0"/>
<rect x="388" y="665" width="1" height="48" fill="#c0c0c0"/>
<rect x="396" y="665" width="1" height="46" fill="#c0c0c0"/>
<rect x="404" y="665" width="1" height="42" fill="#c0c0c0"/>
<rect x="412" y="665" width="1" height="37" fill="#c0c0c0"/>
<rect x="420" y="665" width="1" height="31" fill="#c0c0c0"/>
<rect x="428" y="665" width="1" height="27" fill="#c0c0c0"/>
<rect x="436" y="665" width="1" height="24" fill="#c0c0c0"/>
<rect x="444" y="665" width="1" height="21" fill="#c0c0c0"/>
<rect x="452" y="665" width="1" height="21" fill="#c0c0c0"/>
<rect x="460" y="665" width="1" height="20" fill="#c0c0c0"/>
<rect x="468" y="665" width="1" height="20" fill="#c0c0c0"/>
<rect x="476" y="665" width="1" height="18" fill="#c0c0c0"/>
<rect x="484" y="665" width="1" height="14" fill="#c0c0c0"/>
<rect x="492" y="665" width="1" height="11" fill="#c0c0c0"/>
<rect x="500" y="665" width="1" height="6" fill="#c0c0c0"/>
<rect x="508" y="665" width="1" height="1" fill="#c0c0c0"/>
<rect x="516" y="664" width="1" height="2" fill="#c0c0c0"/>
<rect x="524" y="661" width="1" height="5" fill="#c0c0c0"/>
<rect x="532" y="658" width="1" height="8" fill="#c0c0c0"/>
<rect x="540" y="657" width="1" height="9" fill="#c0c0c0"/>
<rect x="548" y="657" width="1" height="9" fill="#c0c0c0"/>
<rect x="556" y="656" width="1" height="10" fill="#c0c0c0"/>
<rect x="564" y="656" width="1" height="10" fill="#c0c0c0"/>
<rect x="572" y="655" width="1" height="11" fill="#c0c0c0"/>
<rect x="580" y="656" width="1" height="10" fill="#c0c0c0"/>
<rect x="588" y="656" width="1" height="10" fill="#c0c0c0"/>
<rect x="596" y="656" width="1" height="10" fill="#c0c0c0"/>
<rect x="604" y="655" width="1" height="11" fill="#c0c0c0"/>
<rect x="612" y="655" width="1" height="11" fill="#c0c0c0"/>
<rect x="620" y="654" width="1" height="12" fill="#c0c0c0"/>
<rect x="628" y="652" width="1" height="14" fill="#c0c0c0"/>
<rect x="636" y="650" width="1" height="16" fill="#c0c0c0"/>
<rect x="644" y="649" width="1" height="17" fill="#c0c0c0"/>
<rect x="652" y="651" width="1" height="15" fill="#c0c0c0"/>
<rect x="660" y="652" width="1" height="14" fill="#c0c0c0"/>
<rect x="668" y="653" width="1" height="13" fill="#c0c0c0"/>
<rect x="676" y="652" width="1" height="14" fill="#c0c0c0"/>
<rect x="684" y="654" width="1" height="12" fill="#c0c0c0"/>
<rect x="692" y="654" width="1" height="12" fill="#c0c0c0"/>
<rect x="700" y="653" width="1" height="13" fill="#c0c0c0"/>
<rect x="708" y="651" width="1" height="15" fill="#c0c0c0"/>
<rect x="716" y="652" width="1" height="14" fill="#c0c0c0"/>
<rect x="724" y="652" width="1" height="14" fill="#c0c0c0"/>
<rect x="732" y="654" width="1" height="12" fill="#c0c0c0"/>
<rect x="740" y="656" width="1" height="10" fill="#c0c0c0"/>
<rect x="748" y="658" width="1" height="8" fill="#c0c0c0"/>
<rect x="756" y="659" width="1" height="7" fill="#c0c0c0"/>
<rect x="764" y="658" width="1" height="8" fill="#c0c0c0"/>
<rect x="772" y="657" width="1" height="9" fill="#c0c0c0"/>
<rect x="780" y="656" width="1" height="10" fill="#c0c0c0"/>
<rect x="788" y="655" width="1" height="11" fill="#c0c0c0"/>
<rect x="796" y="656" width="1" height="10" fill="#c0c0c0"/>
<rect x="804" y="657" width="1" height="9" fill="#c0c0c0"/>
<rect x="812" y="657" width="1" height="9" fill="#c0c0c0"/>
<rect x="820" y="654" width="1" height="12" fill="#c0c0c0"/>
<rect x="828" y="655" width="1" height="11" fill="#c0c0c0"/>
<rect x="836" y="653" width="1" height="13" fill="#c0c0c0"/>
<rect x="844" y="653" width="1" height="13" fill="#c0c0c0"/>
<rect x="852" y="652" width="1" height="14" fill="#c0c0c0"/>
<rect x="860" y="649" width="1" height="17" fill="#c0c0c0"/>
<rect x="868" y="646" width="1" height="20" fill="#c0c0c0"/>
<rect x="876" y="642" width="1" height="24" fill="#c0c0c0"/>
<rect x="884" y="640" width="1" height="26" fill="#c0c0c0"/>
<rect x="892" y="637" width="1" height="29" fill="#c0c0c0"/>
<rect x="900" y="636" width="1" height="30" fill="#c0c0c0"/>
<rect x="908" y="635" width="1" height="31" fill="#c0c0c0"/>
<rect x="916" y="635" width="1" height="31" fill="#c0c0c0"/>
<rect x="924" y="635" width="1" height="31" fill="#c0c0c0"/>
<rect x="932" y="637" width="1" height="29" fill="#c0c0c0"/>
<rect x="940" y="639" width="1" height="27" fill="#c0c0c0"/>
<rect x="948" y="642" width="1" height="24" fill="#c0c0c0"/>
<rect x="956" y="644" width="1" height="22" fill="#c0c0c0"/>
<rect x="964" y="645" width="1" height="21" fill="#c0c0c0"/>
<rect x="972" y="646" width="1" height="20" fill="#c0c0c0"/>
<rect x="980" y="648" width="1" height="18" fill="#c0c0c0"/>
<rect x="988" y="650" width="1" height="16" fill="#c0c0c0"/>
<rect x="996" y="651" width="1" height="15" fill="#c0c0c0"/>
<rect x="1004" y="652" width="1" height="14" fill="#c0c0c0"/>
<rect x="1012" y="651" width="1" height="15" fill="#c0c0c0"/>
<rect x="1020" y="652" width="1" height="14" fill="#c0c0c0"/>
<rect x="1028" y="654" width="1" height="12" fill="#c0c0c0"/>
<rect x="1036" y="655" width="1" height="11" fill="#c0c0c0"/>
<rect x="1044" y="656" width="1" height="10" fill="#c0c0c0"/>
<rect x="1052" y="657" width="1" height="9" fill="#c0c0c0"/>
<rect x="1060" y="657" width="1" height="9" fill="#c0c0c0"/>
<rect x="1068" y="657" width="1" height="9" fill="#c0c0c0"/>
<rect x="1076" y="657" width="1" height="9" fill="#c0c0c0"/>
<rect x="1084" y="657" width="1" height="9" fill="#c0c0c0"/>
<rect x="1092" y="657" width="1" height="9" fill="#c0c0c0"/>
<rect x="1100" y="656" width="1" height="10" fill="#c0c0c0"/>
<rect x="1108" y="657" width="1" height="9" fill="#c0c0c0"/>
<rect x="1116" y="657" width="1" height="9" fill="#c0c0c0"/>
<rect x="1124" y="656" width="1" height="10" fill="#c0c0c0"/>
<rect x="1132" y="655" width="1" height="11" fill="#c0c0c0"/>
<rect x="1140" y="656" width="1" height="10" fill="#c0c0c0"/>
<rect x="1148" y="657" width="1" height="9" fill="#c0c0c0"/>
<rect x="1156" y="657" width="1" height="9" fill="#c0c0c0"/>
<rect x="1164" y="656" width="1" height="10" fill="#c0c0c0"/>
<rect x="1172" y="656" width="1" height="10" fill="#c0c0c0"/>
<rect x="1180" y="657" width="1" height="9" fill="#c0c0c0"/>
<rect x="1188" y="657" width="1" height="9" fill="#c0c0c0"/>
<rect x="1196" y="657" width="1" height="9" fill="#c0c0c0"/>
<rect x="1204" y="655" width="1" height="11" fill="#c0c0c0"/>
<rect x="1212" y="653" width="1" height="13" fill="#c0c0c0"/>
<rect x="1220" y="652" width="1" height="14" fill="#c0c0c0"/>
<rect x="1228" y="652" width="1" height="14" fill="#c0c0c0"/>
<rect x="1236" y="652" width="1" height="14" fill="#c0c0c0"/>
<rect x="1244" y="652" width="1" height="14" fill="#c0c0c0"/>
<rect x="1252" y="651" width="1" height="15" fill="#c0c0c0"/>
<rect x="1260" y="651" width="1" height="15" fill="#c0c0c0"/>
<path fill="#ff0000" d="M604 655h3v1h-3zM610 655h3v1h-3zM616 655h3v1h-3zM622 655h3v1h-3zM772 655h3v1h-3zM778 655h3v1h-3zM784 655h3v1h-3zM790 655h3v1h-3zM820 655h3v1h-3zM826 655h3v1h-3zM832 655h2v1h-2zM1084 655h3v1h-3zM1090 655h3v1h-3zM1128 655h1v1h-1zM1132 655h3v1h-3zM1138 655h3v1h-3zM1144 655h3v1h-3zM1150 655h3v1h-3zM1156 655h3v1h-3zM1162 655h3v1h-3zM1168 655h3v1h-3zM1174 655h3v1h-3zM1180 655h3v1h-3zM1199 655h2v1h-2zM1204 655h3v1h-3zM1210 655h3v1h-3zM1216 655h3v1h-3zM1222 655h2v1h-2zM72 676h1v1h-1zM76 676h3v1h-3zM82 676h3v1h-3zM88 676h3v1h-3zM94 676h3v1h-3zM100 676h3v1h-3zM106 676h3v1h-3zM112 676h3v1h-3zM232 676h3v1h-3zM238 676h3v1h-3zM244 676h3v1h-3zM280 676h3v1h-3zM520 676h1v1h-1zM874 650h3v1h-3zM1036 650h3v1h-3zM442 701h3v1h-3zM58 675h3v1h-3zM64 675h3v1h-3zM70 675h2v1h-2zM118 675h3v1h-3zM124 675h3v1h-3zM130 675h3v1h-3zM136 675h1v1h-1zM220 675h3v1h-3zM226 675h3v1h-3zM286 675h3v1h-3zM292 675h3v1h-3zM298 675h3v1h-3zM304 675h3v1h-3zM310 675h3v1h-3zM316 675h3v1h-3zM521 675h2v1h-2zM881 648h2v1h-2zM1018 648h3v1h-3zM1024 648h3v1h-3zM628 654h3v1h-3zM634 654h2v1h-2zM754 654h3v1h-3zM760 654h3v1h-3zM766 654h3v1h-3zM834 654h1v1h-1zM838 654h3v1h-3zM844 654h3v1h-3zM1066 654h3v1h-3zM1072 654h3v1h-3zM1078 654h3v1h-3zM1224 654h1v1h-1zM1228 654h3v1h-3zM1234 654h3v1h-3zM1240 654h2v1h-2zM574 658h2v1h-2zM934 637h3v1h-3zM958 637h3v1h-3zM592 656h3v1h-3zM598 656h3v1h-3zM796 656h3v1h-3zM802 656h3v1h-3zM808 656h3v1h-3zM814 656h3v1h-3zM1096 656h3v1h-3zM1102 656h3v1h-3zM1108 656h3v1h-3zM1114 656h3v1h-3zM1120 656h3v1h-3zM1126 656h2v1h-2zM1186 656h3v1h-3zM1192 656h3v1h-3zM1198 656h1v1h-1zM646 652h3v1h-3zM652 652h3v1h-3zM658 652h3v1h-3zM712 652h3v1h-3zM718 652h3v1h-3zM724 652h3v1h-3zM730 652h3v1h-3zM736 652h2v1h-2zM864 652h1v1h-1zM1048 652h3v1h-3zM1054 652h2v1h-2zM1258 652h2v1h-2zM576 657h1v1h-1zM580 657h3v1h-3zM586 657h3v1h-3zM400 708h3v1h-3zM418 708h3v1h-3zM664 651h3v1h-3zM670 651h3v1h-3zM676 651h3v1h-3zM682 651h3v1h-3zM688 651h3v1h-3zM694 651h3v1h-3zM700 651h3v1h-3zM706 651h3v1h-3zM868 651h3v1h-3zM1042 651h3v1h-3zM636 653h1v1h-1zM640 653h3v1h-3zM738 653h1v1h-1zM742 653h3v1h-3zM748 653h3v1h-3zM850 653h3v1h-3zM856 653h3v1h-3zM862 653h2v1h-2zM1056 653h1v1h-1zM1060 653h3v1h-3zM1242 653h1v1h-1zM1246 653h3v1h-3zM1252 653h3v1h-3zM372 697h1v1h-1zM454 697h3v1h-3zM250 677h3v1h-3zM256 677h3v1h-3zM262 677h3v1h-3zM268 677h3v1h-3zM274 677h3v1h-3zM322 677h2v1h-2zM515 677h2v1h-2zM406 709h3v1h-3zM412 709h3v1h-3zM562 661h1v1h-1zM940 636h3v1h-3zM946 636h3v1h-3zM952 636h3v1h-3zM10 669h3v1h-3zM16 669h1v1h-1zM557 663h2v1h-2zM4 668h3v1h-3zM538 668h3v1h-3zM460 695h3v1h-3zM17 670h2v1h-2zM22 670h3v1h-3zM532 670h3v1h-3zM34 672h3v1h-3zM40 672h1v1h-1zM528 672h1v1h-1zM324 678h1v1h-1zM328 678h3v1h-3zM514 678h1v1h-1zM568 659h3v1h-3zM52 674h3v1h-3zM137 674h2v1h-2zM142 674h3v1h-3zM148 674h3v1h-3zM208 674h3v1h-3zM214 674h3v1h-3zM928 638h3v1h-3zM964 638h3v1h-3zM41 673h2v1h-2zM46 673h3v1h-3zM154 673h3v1h-3zM160 673h3v1h-3zM166 673h3v1h-3zM172 673h3v1h-3zM178 673h3v1h-3zM184 673h3v1h-3zM190 673h3v1h-3zM196 673h3v1h-3zM202 673h3v1h-3zM526 673h2v1h-2zM910 641h3v1h-3zM982 641h3v1h-3zM378 700h1v1h-1zM359 690h2v1h-2zM472 690h3v1h-3zM336 680h1v1h-1zM508 680h3v1h-3zM382 702h3v1h-3zM892 646h3v1h-3zM1006 646h3v1h-3zM922 639h3v1h-3zM970 639h3v1h-3zM394 706h2v1h-2zM430 706h3v1h-3zM904 643h2v1h-2zM994 643h2v1h-2zM880 649h1v1h-1zM1030 649h3v1h-3zM376 699h2v1h-2zM448 699h3v1h-3zM544 666h3v1h-3zM364 692h1v1h-1zM467 692h2v1h-2zM370 696h2v1h-2zM496 683h3v1h-3zM490 685h3v1h-3zM388 704h1v1h-1zM436 704h2v1h-2zM366 694h1v1h-1zM389 705h2v1h-2zM916 640h3v1h-3zM976 640h3v1h-3zM340 681h2v1h-2zM504 681h1v1h-1zM28 671h3v1h-3zM899 644h2v1h-2zM996 644h1v1h-1zM563 660h2v1h-2zM479 688h2v1h-2zM906 642h1v1h-1zM988 642h3v1h-3zM396 707h1v1h-1zM424 707h3v1h-3zM358 689h1v1h-1zM478 689h1v1h-1zM886 647h3v1h-3zM1012 647h3v1h-3zM556 664h1v1h-1zM353 687h2v1h-2zM484 687h2v1h-2zM346 684h3v1h-3zM550 665h3v1h-3zM898 645h1v1h-1zM1000 645h3v1h-3zM342 682h1v1h-1zM502 682h2v1h-2zM334 679h2v1h-2zM352 686h1v1h-1zM486 686h1v1h-1zM438 703h1v1h-1zM365 693h1v1h-1zM466 693h1v1h-1z"/>
</g>
<text x="8.3" y="641" font-size="10.2" fill="#000" textLength="147.4" lengthAdjust="spacingAndGlyphs" stroke="#000" stroke-width="0.15">MACD(12,26,9) 0.006627 0.005756</text>
<rect x="1597" y="630" width="1" height="1" fill="#000000"/>
<rect x="1597" y="665" width="1" height="1" fill="#000000"/>
<rect x="1597" y="719" width="1" height="1" fill="#000000"/>
<text transform="translate(1600 639) scale(0.885 1)" font-size="10.2" fill="#000" stroke="#000" stroke-width="0.15">0.015741</text>
<text transform="translate(1600 669) scale(0.885 1)" font-size="10.2" fill="#000" stroke="#000" stroke-width="0.15">0.00</text>
<text transform="translate(1600 717) scale(0.885 1)" font-size="10.2" fill="#000" stroke="#000" stroke-width="0.15">-0.024411</text>
<rect x="4" y="721" width="1" height="2" fill="#000000"/>
<text transform="translate(3.3 733) scale(0.885 1)" font-size="10.2" fill="#000" stroke="#000" stroke-width="0.15">28 Jan 2020</text>
<rect x="68" y="721" width="1" height="2" fill="#000000"/>
<text transform="translate(67.3 733) scale(0.885 1)" font-size="10.2" fill="#000" stroke="#000" stroke-width="0.15">6 Feb 2020</text>
<rect x="132" y="721" width="1" height="2" fill="#000000"/>
<text transform="translate(131.3 733) scale(0.885 1)" font-size="10.2" fill="#000" stroke="#000" stroke-width="0.15">15 Feb 2020</text>
<rect x="196" y="721" width="1" height="2" fill="#000000"/>
<text transform="translate(195.3 733) scale(0.885 1)" font-size="10.2" fill="#000" stroke="#000" stroke-width="0.15">25 Feb 2020</text>
<rect x="260" y="721" width="1" height="2" fill="#000000"/>
<text transform="translate(259.3 733) scale(0.885 1)" font-size="10.2" fill="#000" stroke="#000" stroke-width="0.15">5 Mar 2020</text>
<rect x="324" y="721" width="1" height="2" fill="#000000"/>
<text transform="translate(323.3 733) scale(0.885 1)" font-size="10.2" fill="#000" stroke="#000" stroke-width="0.15">14 Mar 2020</text>
<rect x="388" y="721" width="1" height="2" fill="#000000"/>
<text transform="translate(387.3 733) scale(0.885 1)" font-size="10.2" fill="#000" stroke="#000" stroke-width="0.15">24 Mar 2020</text>
<rect x="452" y="721" width="1" height="2" fill="#000000"/>
<text transform="translate(451.3 733) scale(0.885 1)" font-size="10.2" fill="#000" stroke="#000" stroke-width="0.15">2 Apr 2020</text>
<rect x="516" y="721" width="1" height="2" fill="#000000"/>
<text transform="translate(515.3 733) scale(0.885 1)" font-size="10.2" fill="#000" stroke="#000" stroke-width="0.15">11 Apr 2020</text>
<rect x="580" y="721" width="1" height="2" fill="#000000"/>
<text transform="translate(579.3 733) scale(0.885 1)" font-size="10.2" fill="#000" stroke="#000" stroke-width="0.15">21 Apr 2020</text>
<rect x="644" y="721" width="1" height="2" fill="#000000"/>
<text transform="translate(643.3 733) scale(0.885 1)" font-size="10.2" fill="#000" stroke="#000" stroke-width="0.15">30 Apr 2020</text>
<rect x="708" y="721" width="1" height="2" fill="#000000"/>
<text transform="translate(707.3 733) scale(0.885 1)" font-size="10.2" fill="#000" stroke="#000" stroke-width="0.15">9 May 2020</text>
<rect x="772" y="721" width="1" height="2" fill="#000000"/>
<text transform="translate(771.3 733) scale(0.885 1)" font-size="10.2" fill="#000" stroke="#000" stroke-width="0.15">19 May 2020</text>
<rect x="836" y="721" width="1" height="2" fill="#000000"/>
<text transform="translate(835.3 733) scale(0.885 1)" font-size="10.2" fill="#000" stroke="#000" stroke-width="0.15">28 May 2020</text>
<rect x="900" y="721" width="1" height="2" fill="#000000"/>
<text transform="translate(899.3 733) scale(0.885 1)" font-size="10.2" fill="#000" stroke="#000" stroke-width="0.15">6 Jun 2020</text>
<rect x="964" y="721" width="1" height="2" fill="#000000"/>
<text transform="translate(963.3 733) scale(0.885 1)" font-size="10.2" fill="#000" stroke="#000" stroke-width="0.15">16 Jun 2020</text>
<rect x="1028" y="721" width="1" height="2" fill="#000000"/>
<text transform="translate(1027.3 733) scale(0.885 1)" font-size="10.2" fill="#000" stroke="#000" stroke-width="0.15">25 Jun 2020</text>
<rect x="1092" y="721" width="1" height="2" fill="#000000"/>
<text transform="translate(1091.3 733) scale(0.885 1)" font-size="10.2" fill="#000" stroke="#000" stroke-width="0.15">4 Jul 2020</text>
<rect x="1156" y="721" width="1" height="2" fill="#000000"/>
<text transform="translate(1155.3 733) scale(0.885 1)" font-size="10.2" fill="#000" stroke="#000" stroke-width="0.15">14 Jul 2020</text>
<rect x="1220" y="721" width="1" height="2" fill="#000000"/>
<text transform="translate(1219.3 733) scale(0.885 1)" font-size="10.2" fill="#000" stroke="#000" stroke-width="0.15">23 Jul 2020</text>
<rect x="0" y="741" width="1635" height="1" fill="#e3e3e3"/>
<rect x="0" y="742" width="1635" height="1" fill="#ffffff"/>
<rect x="0" y="743" width="1635" height="1" fill="#000000"/>
<rect x="0" y="744" width="1635" height="1" fill="#ffffff"/>
<rect x="0" y="745" width="1635" height="18" fill="#f0f0f0"/>
<rect x="0" y="744" width="1" height="19" fill="#505050"/>
<rect x="0" y="763" width="1635" height="2" fill="#ffffff"/>
<rect x="0" y="765" width="1635" height="2" fill="#f0f0f0"/>
<rect x="0" y="767" width="1635" height="1" fill="#a0a0a0"/>
<rect x="0" y="768" width="1635" height="1" fill="#fdfdfd"/>
<text x="17" y="757.5" font-size="12.5" fill="#6e6e6e" textLength="79.5" lengthAdjust="spacingAndGlyphs">EURUSD,Daily</text>
<text x="119.4" y="757.5" font-size="12.5" fill="#6e6e6e" textLength="78.7" lengthAdjust="spacingAndGlyphs">USDCHF,Daily</text>
<text x="324.2" y="757.5" font-size="12.5" fill="#6e6e6e" textLength="80.8" lengthAdjust="spacingAndGlyphs">USDCAD,Daily</text>
<text x="427.1" y="757.5" font-size="12.5" fill="#6e6e6e" textLength="82.8" lengthAdjust="spacingAndGlyphs">USDCNH,Daily</text>
<text x="532.2" y="757.5" font-size="12.5" fill="#6e6e6e" textLength="77.2" lengthAdjust="spacingAndGlyphs">EURUSD,M15</text>
<text x="632" y="757.5" font-size="12.5" fill="#6e6e6e" textLength="77.7" lengthAdjust="spacingAndGlyphs">GBPUSD,M30</text>
<text x="733" y="757.5" font-size="12.5" fill="#6e6e6e" textLength="71.6" lengthAdjust="spacingAndGlyphs">XAUUSD,M5</text>
<text x="828.1" y="757.5" font-size="12.5" fill="#6e6e6e" textLength="49.2" lengthAdjust="spacingAndGlyphs">HK50,H1</text>
<text x="900.4" y="757.5" font-size="12.5" fill="#6e6e6e" textLength="56.4" lengthAdjust="spacingAndGlyphs">UK100,H1</text>
<text x="980.1" y="757.5" font-size="12.5" fill="#6e6e6e" textLength="56.4" lengthAdjust="spacingAndGlyphs">UK100,H1</text>
<text x="1060.1" y="757.5" font-size="12.5" fill="#6e6e6e" textLength="55.9" lengthAdjust="spacingAndGlyphs">GER30,H1</text>
<text x="1139.1" y="757.5" font-size="12.5" fill="#6e6e6e" textLength="54.3" lengthAdjust="spacingAndGlyphs">FRA40,H1</text>
<text x="1215.3" y="757.5" font-size="12.5" fill="#6e6e6e" textLength="62.7" lengthAdjust="spacingAndGlyphs">USOil,Daily</text>
<text x="1299.7" y="757.5" font-size="12.5" fill="#6e6e6e" textLength="61.8" lengthAdjust="spacingAndGlyphs">USDJPY,H1</text>
<text x="1384.6" y="757.5" font-size="12.5" fill="#6e6e6e" textLength="56.2" lengthAdjust="spacingAndGlyphs">DJ30,M15</text>
<text x="1463.3" y="757.5" font-size="12.5" fill="#6e6e6e" textLength="78.5" lengthAdjust="spacingAndGlyphs">CHINA300,H4</text>
<rect x="109" y="746" width="1" height="14" fill="#707070"/>
<rect x="417" y="746" width="1" height="14" fill="#707070"/>
<rect x="521" y="746" width="1" height="14" fill="#707070"/>
<rect x="621" y="746" width="1" height="14" fill="#707070"/>
<rect x="721" y="746" width="1" height="14" fill="#707070"/>
<rect x="817" y="746" width="1" height="14" fill="#707070"/>
<rect x="889" y="746" width="1" height="14" fill="#707070"/>
<rect x="969" y="746" width="1" height="14" fill="#707070"/>
<rect x="1049" y="746" width="1" height="14" fill="#707070"/>
<rect x="1129" y="746" width="1" height="14" fill="#707070"/>
<rect x="1205" y="746" width="1" height="14" fill="#707070"/>
<rect x="1289" y="746" width="1" height="14" fill="#707070"/>
<rect x="1373" y="746" width="1" height="14" fill="#707070"/>
<rect x="1453" y="746" width="1" height="14" fill="#707070"/>
<rect x="1553" y="746" width="1" height="14" fill="#707070"/>
<rect x="209" y="743" width="105" height="19" fill="#000"/>
<rect x="210" y="743" width="103" height="18" fill="#fff"/>
<rect x="209" y="742" width="105" height="1" fill="#fff"/>
<rect x="209" y="743" width="1" height="1" fill="#000"/>
<rect x="313" y="743" width="1" height="1" fill="#000"/>
<text x="220.2" y="757.5" font-size="12.5" fill="#000" textLength="82" lengthAdjust="spacingAndGlyphs">AUDUSD,Daily</text>
<path d="M1614.5 749 L1614.5 755 L1611 752 Z" fill="#808080"/>
<path d="M1630.5 749 L1630.5 755 L1634 752 Z" fill="#808080"/>
</svg>
</body></html>
